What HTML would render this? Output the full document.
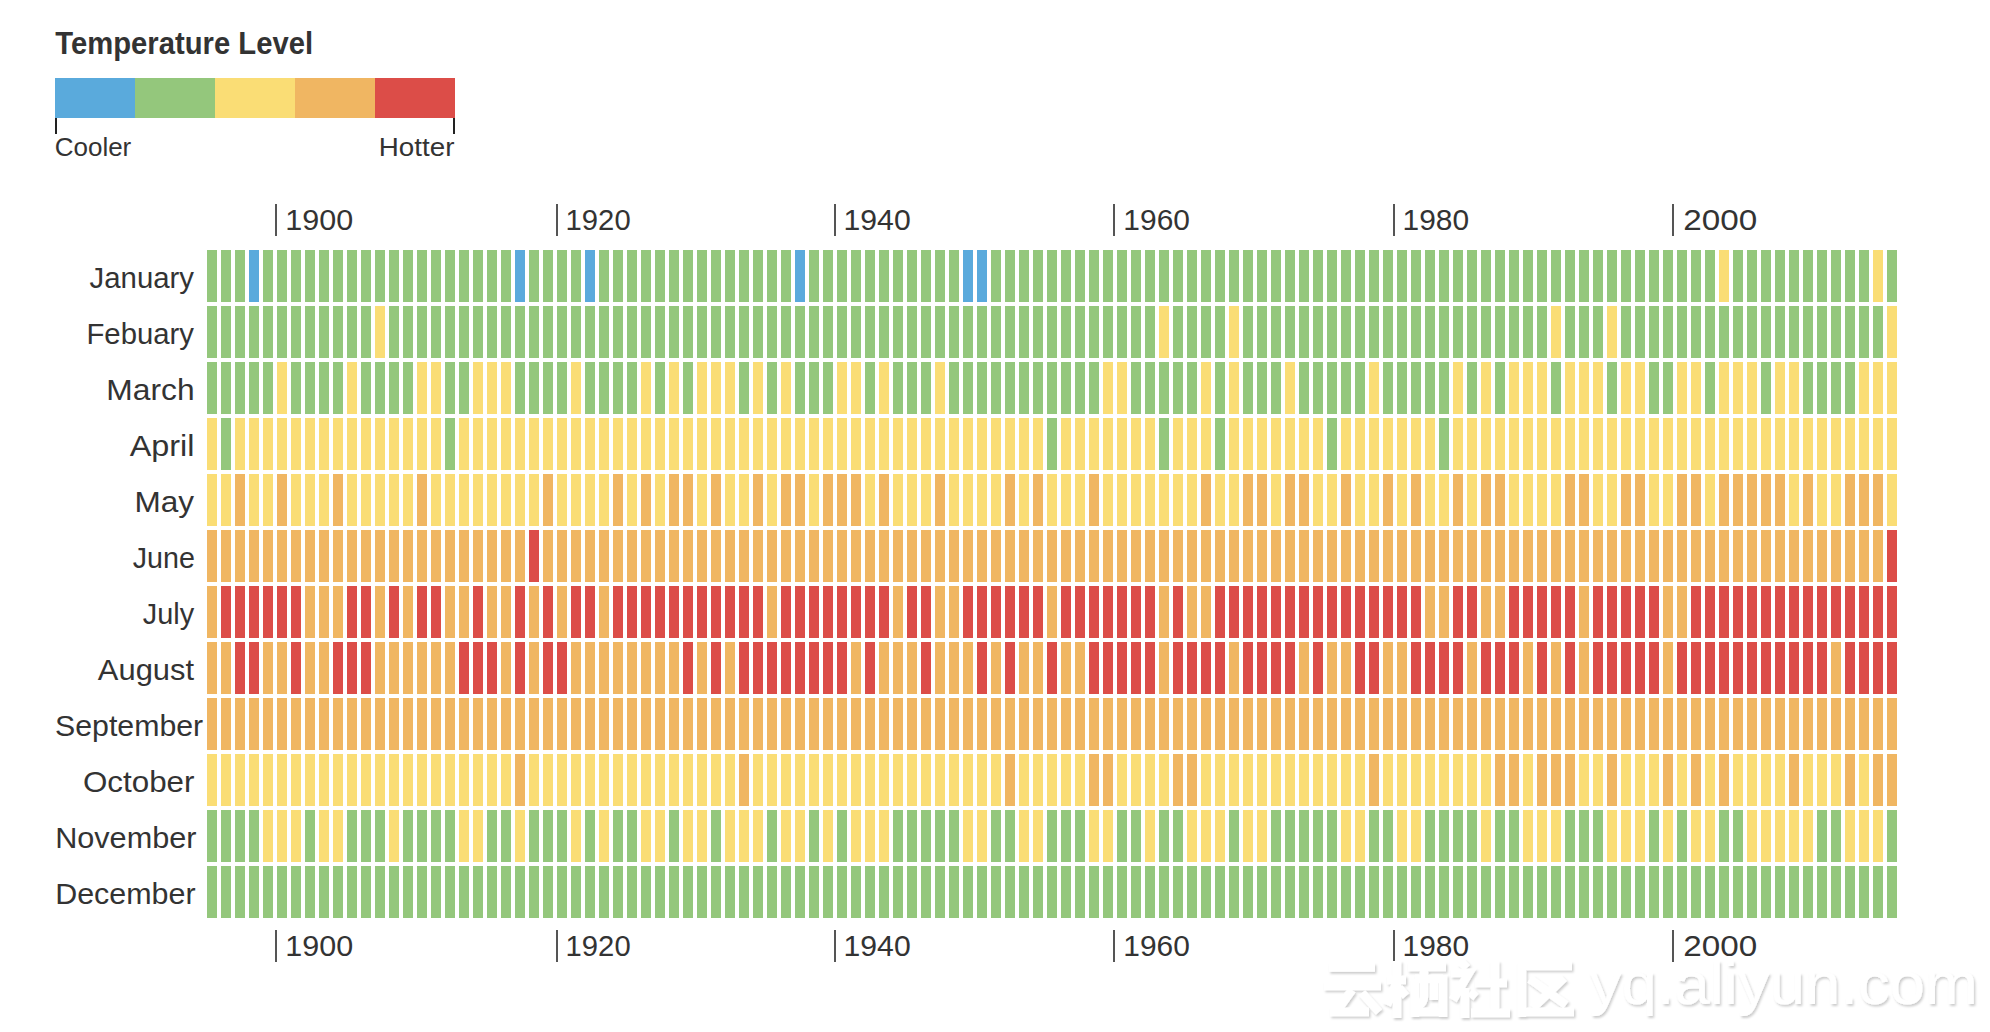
<!DOCTYPE html><html><head><meta charset="utf-8"><style>html,body{margin:0;padding:0;background:#fff;width:1990px;height:1032px;overflow:hidden}svg{display:block}text{font-family:"Liberation Sans",sans-serif;fill:#333333}</style></head><body>
<svg width="1990" height="1032" viewBox="0 0 1990 1032">
<text transform="translate(55.31 54.40) scale(0.9384 1)" font-size="31.16" font-weight="bold">Temperature Level</text>
<rect x="55" y="78" width="80" height="40" fill="#5aaadc"/>
<rect x="135" y="78" width="80" height="40" fill="#94c77c"/>
<rect x="215" y="78" width="80" height="40" fill="#fadd75"/>
<rect x="295" y="78" width="80" height="40" fill="#f0b662"/>
<rect x="375" y="78" width="80" height="40" fill="#dc4d48"/>
<rect x="55" y="118" width="2" height="16" fill="#222"/>
<rect x="453" y="118" width="2" height="16" fill="#222"/>
<text transform="translate(54.70 156.00) scale(0.9914 1)" font-size="26.23">Cooler</text>
<text transform="translate(378.78 156.00) scale(1.0646 1)" font-size="26.09">Hotter</text>
<rect x="275" y="204" width="2" height="32" fill="#555"/>
<text transform="translate(285.31 230.00) scale(1.0174 1)" font-size="30.00">1900</text>
<rect x="275" y="930" width="2" height="32" fill="#555"/>
<text transform="translate(285.31 956.00) scale(1.0272 1)" font-size="29.71">1900</text>
<rect x="556" y="204" width="2" height="32" fill="#555"/>
<text transform="translate(565.61 230.00) scale(0.9747 1)" font-size="30.00">1920</text>
<rect x="556" y="930" width="2" height="32" fill="#555"/>
<text transform="translate(565.61 956.00) scale(0.9841 1)" font-size="29.71">1920</text>
<rect x="834" y="204" width="2" height="32" fill="#555"/>
<text transform="translate(843.54 230.00) scale(1.0063 1)" font-size="30.00">1940</text>
<rect x="834" y="930" width="2" height="32" fill="#555"/>
<text transform="translate(843.54 956.00) scale(1.0160 1)" font-size="29.71">1940</text>
<rect x="1113" y="204" width="2" height="32" fill="#555"/>
<text transform="translate(1123.36 230.00) scale(0.9976 1)" font-size="30.00">1960</text>
<rect x="1113" y="930" width="2" height="32" fill="#555"/>
<text transform="translate(1123.36 956.00) scale(1.0072 1)" font-size="29.71">1960</text>
<rect x="1393" y="204" width="2" height="32" fill="#555"/>
<text transform="translate(1402.56 230.00) scale(0.9968 1)" font-size="30.00">1980</text>
<rect x="1393" y="930" width="2" height="32" fill="#555"/>
<text transform="translate(1402.56 956.00) scale(1.0064 1)" font-size="29.71">1980</text>
<rect x="1672" y="204" width="2" height="32" fill="#555"/>
<text transform="translate(1683.24 230.00) scale(1.1077 1)" font-size="30.00">2000</text>
<rect x="1672" y="930" width="2" height="32" fill="#555"/>
<text transform="translate(1683.24 956.00) scale(1.1184 1)" font-size="29.71">2000</text>
<text transform="translate(89.56 287.90) scale(0.9699 1)" font-size="30.29">January</text>
<text transform="translate(86.45 343.90) scale(0.9679 1)" font-size="30.29">Febuary</text>
<text transform="translate(106.36 399.90) scale(1.0487 1)" font-size="30.29">March</text>
<text transform="translate(129.64 455.90) scale(1.0691 1)" font-size="30.29">April</text>
<text transform="translate(134.38 511.90) scale(1.0407 1)" font-size="30.29">May</text>
<text transform="translate(132.67 567.90) scale(0.9466 1)" font-size="30.29">June</text>
<text transform="translate(142.67 623.90) scale(0.9548 1)" font-size="30.29">July</text>
<text transform="translate(97.85 679.90) scale(1.0203 1)" font-size="30.29">August</text>
<text transform="translate(55.04 735.90) scale(1.0000 1)" font-size="30.29">September</text>
<text transform="translate(82.99 791.90) scale(1.0353 1)" font-size="30.29">October</text>
<text transform="translate(55.15 847.90) scale(1.0113 1)" font-size="30.29">November</text>
<text transform="translate(55.16 903.90) scale(1.0054 1)" font-size="30.29">December</text>
<rect x="207" y="250" width="10" height="52" fill="#94c77c"/>
<rect x="221" y="250" width="10" height="52" fill="#94c77c"/>
<rect x="235" y="250" width="10" height="52" fill="#94c77c"/>
<rect x="249" y="250" width="10" height="52" fill="#5aaadc"/>
<rect x="263" y="250" width="10" height="52" fill="#94c77c"/>
<rect x="277" y="250" width="10" height="52" fill="#94c77c"/>
<rect x="291" y="250" width="10" height="52" fill="#94c77c"/>
<rect x="305" y="250" width="10" height="52" fill="#94c77c"/>
<rect x="319" y="250" width="10" height="52" fill="#94c77c"/>
<rect x="333" y="250" width="10" height="52" fill="#94c77c"/>
<rect x="347" y="250" width="10" height="52" fill="#94c77c"/>
<rect x="361" y="250" width="10" height="52" fill="#94c77c"/>
<rect x="375" y="250" width="10" height="52" fill="#94c77c"/>
<rect x="389" y="250" width="10" height="52" fill="#94c77c"/>
<rect x="403" y="250" width="10" height="52" fill="#94c77c"/>
<rect x="417" y="250" width="10" height="52" fill="#94c77c"/>
<rect x="431" y="250" width="10" height="52" fill="#94c77c"/>
<rect x="445" y="250" width="10" height="52" fill="#94c77c"/>
<rect x="459" y="250" width="10" height="52" fill="#94c77c"/>
<rect x="473" y="250" width="10" height="52" fill="#94c77c"/>
<rect x="487" y="250" width="10" height="52" fill="#94c77c"/>
<rect x="501" y="250" width="10" height="52" fill="#94c77c"/>
<rect x="515" y="250" width="10" height="52" fill="#5aaadc"/>
<rect x="529" y="250" width="10" height="52" fill="#94c77c"/>
<rect x="543" y="250" width="10" height="52" fill="#94c77c"/>
<rect x="557" y="250" width="10" height="52" fill="#94c77c"/>
<rect x="571" y="250" width="10" height="52" fill="#94c77c"/>
<rect x="585" y="250" width="10" height="52" fill="#5aaadc"/>
<rect x="599" y="250" width="10" height="52" fill="#94c77c"/>
<rect x="613" y="250" width="10" height="52" fill="#94c77c"/>
<rect x="627" y="250" width="10" height="52" fill="#94c77c"/>
<rect x="641" y="250" width="10" height="52" fill="#94c77c"/>
<rect x="655" y="250" width="10" height="52" fill="#94c77c"/>
<rect x="669" y="250" width="10" height="52" fill="#94c77c"/>
<rect x="683" y="250" width="10" height="52" fill="#94c77c"/>
<rect x="697" y="250" width="10" height="52" fill="#94c77c"/>
<rect x="711" y="250" width="10" height="52" fill="#94c77c"/>
<rect x="725" y="250" width="10" height="52" fill="#94c77c"/>
<rect x="739" y="250" width="10" height="52" fill="#94c77c"/>
<rect x="753" y="250" width="10" height="52" fill="#94c77c"/>
<rect x="767" y="250" width="10" height="52" fill="#94c77c"/>
<rect x="781" y="250" width="10" height="52" fill="#94c77c"/>
<rect x="795" y="250" width="10" height="52" fill="#5aaadc"/>
<rect x="809" y="250" width="10" height="52" fill="#94c77c"/>
<rect x="823" y="250" width="10" height="52" fill="#94c77c"/>
<rect x="837" y="250" width="10" height="52" fill="#94c77c"/>
<rect x="851" y="250" width="10" height="52" fill="#94c77c"/>
<rect x="865" y="250" width="10" height="52" fill="#94c77c"/>
<rect x="879" y="250" width="10" height="52" fill="#94c77c"/>
<rect x="893" y="250" width="10" height="52" fill="#94c77c"/>
<rect x="907" y="250" width="10" height="52" fill="#94c77c"/>
<rect x="921" y="250" width="10" height="52" fill="#94c77c"/>
<rect x="935" y="250" width="10" height="52" fill="#94c77c"/>
<rect x="949" y="250" width="10" height="52" fill="#94c77c"/>
<rect x="963" y="250" width="10" height="52" fill="#5aaadc"/>
<rect x="977" y="250" width="10" height="52" fill="#5aaadc"/>
<rect x="991" y="250" width="10" height="52" fill="#94c77c"/>
<rect x="1005" y="250" width="10" height="52" fill="#94c77c"/>
<rect x="1019" y="250" width="10" height="52" fill="#94c77c"/>
<rect x="1033" y="250" width="10" height="52" fill="#94c77c"/>
<rect x="1047" y="250" width="10" height="52" fill="#94c77c"/>
<rect x="1061" y="250" width="10" height="52" fill="#94c77c"/>
<rect x="1075" y="250" width="10" height="52" fill="#94c77c"/>
<rect x="1089" y="250" width="10" height="52" fill="#94c77c"/>
<rect x="1103" y="250" width="10" height="52" fill="#94c77c"/>
<rect x="1117" y="250" width="10" height="52" fill="#94c77c"/>
<rect x="1131" y="250" width="10" height="52" fill="#94c77c"/>
<rect x="1145" y="250" width="10" height="52" fill="#94c77c"/>
<rect x="1159" y="250" width="10" height="52" fill="#94c77c"/>
<rect x="1173" y="250" width="10" height="52" fill="#94c77c"/>
<rect x="1187" y="250" width="10" height="52" fill="#94c77c"/>
<rect x="1201" y="250" width="10" height="52" fill="#94c77c"/>
<rect x="1215" y="250" width="10" height="52" fill="#94c77c"/>
<rect x="1229" y="250" width="10" height="52" fill="#94c77c"/>
<rect x="1243" y="250" width="10" height="52" fill="#94c77c"/>
<rect x="1257" y="250" width="10" height="52" fill="#94c77c"/>
<rect x="1271" y="250" width="10" height="52" fill="#94c77c"/>
<rect x="1285" y="250" width="10" height="52" fill="#94c77c"/>
<rect x="1299" y="250" width="10" height="52" fill="#94c77c"/>
<rect x="1313" y="250" width="10" height="52" fill="#94c77c"/>
<rect x="1327" y="250" width="10" height="52" fill="#94c77c"/>
<rect x="1341" y="250" width="10" height="52" fill="#94c77c"/>
<rect x="1355" y="250" width="10" height="52" fill="#94c77c"/>
<rect x="1369" y="250" width="10" height="52" fill="#94c77c"/>
<rect x="1383" y="250" width="10" height="52" fill="#94c77c"/>
<rect x="1397" y="250" width="10" height="52" fill="#94c77c"/>
<rect x="1411" y="250" width="10" height="52" fill="#94c77c"/>
<rect x="1425" y="250" width="10" height="52" fill="#94c77c"/>
<rect x="1439" y="250" width="10" height="52" fill="#94c77c"/>
<rect x="1453" y="250" width="10" height="52" fill="#94c77c"/>
<rect x="1467" y="250" width="10" height="52" fill="#94c77c"/>
<rect x="1481" y="250" width="10" height="52" fill="#94c77c"/>
<rect x="1495" y="250" width="10" height="52" fill="#94c77c"/>
<rect x="1509" y="250" width="10" height="52" fill="#94c77c"/>
<rect x="1523" y="250" width="10" height="52" fill="#94c77c"/>
<rect x="1537" y="250" width="10" height="52" fill="#94c77c"/>
<rect x="1551" y="250" width="10" height="52" fill="#94c77c"/>
<rect x="1565" y="250" width="10" height="52" fill="#94c77c"/>
<rect x="1579" y="250" width="10" height="52" fill="#94c77c"/>
<rect x="1593" y="250" width="10" height="52" fill="#94c77c"/>
<rect x="1607" y="250" width="10" height="52" fill="#94c77c"/>
<rect x="1621" y="250" width="10" height="52" fill="#94c77c"/>
<rect x="1635" y="250" width="10" height="52" fill="#94c77c"/>
<rect x="1649" y="250" width="10" height="52" fill="#94c77c"/>
<rect x="1663" y="250" width="10" height="52" fill="#94c77c"/>
<rect x="1677" y="250" width="10" height="52" fill="#94c77c"/>
<rect x="1691" y="250" width="10" height="52" fill="#94c77c"/>
<rect x="1705" y="250" width="10" height="52" fill="#94c77c"/>
<rect x="1719" y="250" width="10" height="52" fill="#fadd75"/>
<rect x="1733" y="250" width="10" height="52" fill="#94c77c"/>
<rect x="1747" y="250" width="10" height="52" fill="#94c77c"/>
<rect x="1761" y="250" width="10" height="52" fill="#94c77c"/>
<rect x="1775" y="250" width="10" height="52" fill="#94c77c"/>
<rect x="1789" y="250" width="10" height="52" fill="#94c77c"/>
<rect x="1803" y="250" width="10" height="52" fill="#94c77c"/>
<rect x="1817" y="250" width="10" height="52" fill="#94c77c"/>
<rect x="1831" y="250" width="10" height="52" fill="#94c77c"/>
<rect x="1845" y="250" width="10" height="52" fill="#94c77c"/>
<rect x="1859" y="250" width="10" height="52" fill="#94c77c"/>
<rect x="1873" y="250" width="10" height="52" fill="#fadd75"/>
<rect x="1887" y="250" width="10" height="52" fill="#94c77c"/>
<rect x="207" y="306" width="10" height="52" fill="#94c77c"/>
<rect x="221" y="306" width="10" height="52" fill="#94c77c"/>
<rect x="235" y="306" width="10" height="52" fill="#94c77c"/>
<rect x="249" y="306" width="10" height="52" fill="#94c77c"/>
<rect x="263" y="306" width="10" height="52" fill="#94c77c"/>
<rect x="277" y="306" width="10" height="52" fill="#94c77c"/>
<rect x="291" y="306" width="10" height="52" fill="#94c77c"/>
<rect x="305" y="306" width="10" height="52" fill="#94c77c"/>
<rect x="319" y="306" width="10" height="52" fill="#94c77c"/>
<rect x="333" y="306" width="10" height="52" fill="#94c77c"/>
<rect x="347" y="306" width="10" height="52" fill="#94c77c"/>
<rect x="361" y="306" width="10" height="52" fill="#94c77c"/>
<rect x="375" y="306" width="10" height="52" fill="#fadd75"/>
<rect x="389" y="306" width="10" height="52" fill="#94c77c"/>
<rect x="403" y="306" width="10" height="52" fill="#94c77c"/>
<rect x="417" y="306" width="10" height="52" fill="#94c77c"/>
<rect x="431" y="306" width="10" height="52" fill="#94c77c"/>
<rect x="445" y="306" width="10" height="52" fill="#94c77c"/>
<rect x="459" y="306" width="10" height="52" fill="#94c77c"/>
<rect x="473" y="306" width="10" height="52" fill="#94c77c"/>
<rect x="487" y="306" width="10" height="52" fill="#94c77c"/>
<rect x="501" y="306" width="10" height="52" fill="#94c77c"/>
<rect x="515" y="306" width="10" height="52" fill="#94c77c"/>
<rect x="529" y="306" width="10" height="52" fill="#94c77c"/>
<rect x="543" y="306" width="10" height="52" fill="#94c77c"/>
<rect x="557" y="306" width="10" height="52" fill="#94c77c"/>
<rect x="571" y="306" width="10" height="52" fill="#94c77c"/>
<rect x="585" y="306" width="10" height="52" fill="#94c77c"/>
<rect x="599" y="306" width="10" height="52" fill="#94c77c"/>
<rect x="613" y="306" width="10" height="52" fill="#94c77c"/>
<rect x="627" y="306" width="10" height="52" fill="#94c77c"/>
<rect x="641" y="306" width="10" height="52" fill="#94c77c"/>
<rect x="655" y="306" width="10" height="52" fill="#94c77c"/>
<rect x="669" y="306" width="10" height="52" fill="#94c77c"/>
<rect x="683" y="306" width="10" height="52" fill="#94c77c"/>
<rect x="697" y="306" width="10" height="52" fill="#94c77c"/>
<rect x="711" y="306" width="10" height="52" fill="#94c77c"/>
<rect x="725" y="306" width="10" height="52" fill="#94c77c"/>
<rect x="739" y="306" width="10" height="52" fill="#94c77c"/>
<rect x="753" y="306" width="10" height="52" fill="#94c77c"/>
<rect x="767" y="306" width="10" height="52" fill="#94c77c"/>
<rect x="781" y="306" width="10" height="52" fill="#94c77c"/>
<rect x="795" y="306" width="10" height="52" fill="#94c77c"/>
<rect x="809" y="306" width="10" height="52" fill="#94c77c"/>
<rect x="823" y="306" width="10" height="52" fill="#94c77c"/>
<rect x="837" y="306" width="10" height="52" fill="#94c77c"/>
<rect x="851" y="306" width="10" height="52" fill="#94c77c"/>
<rect x="865" y="306" width="10" height="52" fill="#94c77c"/>
<rect x="879" y="306" width="10" height="52" fill="#94c77c"/>
<rect x="893" y="306" width="10" height="52" fill="#94c77c"/>
<rect x="907" y="306" width="10" height="52" fill="#94c77c"/>
<rect x="921" y="306" width="10" height="52" fill="#94c77c"/>
<rect x="935" y="306" width="10" height="52" fill="#94c77c"/>
<rect x="949" y="306" width="10" height="52" fill="#94c77c"/>
<rect x="963" y="306" width="10" height="52" fill="#94c77c"/>
<rect x="977" y="306" width="10" height="52" fill="#94c77c"/>
<rect x="991" y="306" width="10" height="52" fill="#94c77c"/>
<rect x="1005" y="306" width="10" height="52" fill="#94c77c"/>
<rect x="1019" y="306" width="10" height="52" fill="#94c77c"/>
<rect x="1033" y="306" width="10" height="52" fill="#94c77c"/>
<rect x="1047" y="306" width="10" height="52" fill="#94c77c"/>
<rect x="1061" y="306" width="10" height="52" fill="#94c77c"/>
<rect x="1075" y="306" width="10" height="52" fill="#94c77c"/>
<rect x="1089" y="306" width="10" height="52" fill="#94c77c"/>
<rect x="1103" y="306" width="10" height="52" fill="#94c77c"/>
<rect x="1117" y="306" width="10" height="52" fill="#94c77c"/>
<rect x="1131" y="306" width="10" height="52" fill="#94c77c"/>
<rect x="1145" y="306" width="10" height="52" fill="#94c77c"/>
<rect x="1159" y="306" width="10" height="52" fill="#fadd75"/>
<rect x="1173" y="306" width="10" height="52" fill="#94c77c"/>
<rect x="1187" y="306" width="10" height="52" fill="#94c77c"/>
<rect x="1201" y="306" width="10" height="52" fill="#94c77c"/>
<rect x="1215" y="306" width="10" height="52" fill="#94c77c"/>
<rect x="1229" y="306" width="10" height="52" fill="#fadd75"/>
<rect x="1243" y="306" width="10" height="52" fill="#94c77c"/>
<rect x="1257" y="306" width="10" height="52" fill="#94c77c"/>
<rect x="1271" y="306" width="10" height="52" fill="#94c77c"/>
<rect x="1285" y="306" width="10" height="52" fill="#94c77c"/>
<rect x="1299" y="306" width="10" height="52" fill="#94c77c"/>
<rect x="1313" y="306" width="10" height="52" fill="#94c77c"/>
<rect x="1327" y="306" width="10" height="52" fill="#94c77c"/>
<rect x="1341" y="306" width="10" height="52" fill="#94c77c"/>
<rect x="1355" y="306" width="10" height="52" fill="#94c77c"/>
<rect x="1369" y="306" width="10" height="52" fill="#94c77c"/>
<rect x="1383" y="306" width="10" height="52" fill="#94c77c"/>
<rect x="1397" y="306" width="10" height="52" fill="#94c77c"/>
<rect x="1411" y="306" width="10" height="52" fill="#94c77c"/>
<rect x="1425" y="306" width="10" height="52" fill="#94c77c"/>
<rect x="1439" y="306" width="10" height="52" fill="#94c77c"/>
<rect x="1453" y="306" width="10" height="52" fill="#94c77c"/>
<rect x="1467" y="306" width="10" height="52" fill="#94c77c"/>
<rect x="1481" y="306" width="10" height="52" fill="#94c77c"/>
<rect x="1495" y="306" width="10" height="52" fill="#94c77c"/>
<rect x="1509" y="306" width="10" height="52" fill="#94c77c"/>
<rect x="1523" y="306" width="10" height="52" fill="#94c77c"/>
<rect x="1537" y="306" width="10" height="52" fill="#94c77c"/>
<rect x="1551" y="306" width="10" height="52" fill="#fadd75"/>
<rect x="1565" y="306" width="10" height="52" fill="#94c77c"/>
<rect x="1579" y="306" width="10" height="52" fill="#94c77c"/>
<rect x="1593" y="306" width="10" height="52" fill="#94c77c"/>
<rect x="1607" y="306" width="10" height="52" fill="#fadd75"/>
<rect x="1621" y="306" width="10" height="52" fill="#94c77c"/>
<rect x="1635" y="306" width="10" height="52" fill="#94c77c"/>
<rect x="1649" y="306" width="10" height="52" fill="#94c77c"/>
<rect x="1663" y="306" width="10" height="52" fill="#94c77c"/>
<rect x="1677" y="306" width="10" height="52" fill="#94c77c"/>
<rect x="1691" y="306" width="10" height="52" fill="#94c77c"/>
<rect x="1705" y="306" width="10" height="52" fill="#94c77c"/>
<rect x="1719" y="306" width="10" height="52" fill="#94c77c"/>
<rect x="1733" y="306" width="10" height="52" fill="#94c77c"/>
<rect x="1747" y="306" width="10" height="52" fill="#94c77c"/>
<rect x="1761" y="306" width="10" height="52" fill="#94c77c"/>
<rect x="1775" y="306" width="10" height="52" fill="#94c77c"/>
<rect x="1789" y="306" width="10" height="52" fill="#94c77c"/>
<rect x="1803" y="306" width="10" height="52" fill="#94c77c"/>
<rect x="1817" y="306" width="10" height="52" fill="#94c77c"/>
<rect x="1831" y="306" width="10" height="52" fill="#94c77c"/>
<rect x="1845" y="306" width="10" height="52" fill="#94c77c"/>
<rect x="1859" y="306" width="10" height="52" fill="#94c77c"/>
<rect x="1873" y="306" width="10" height="52" fill="#94c77c"/>
<rect x="1887" y="306" width="10" height="52" fill="#fadd75"/>
<rect x="207" y="362" width="10" height="52" fill="#94c77c"/>
<rect x="221" y="362" width="10" height="52" fill="#94c77c"/>
<rect x="235" y="362" width="10" height="52" fill="#94c77c"/>
<rect x="249" y="362" width="10" height="52" fill="#94c77c"/>
<rect x="263" y="362" width="10" height="52" fill="#94c77c"/>
<rect x="277" y="362" width="10" height="52" fill="#fadd75"/>
<rect x="291" y="362" width="10" height="52" fill="#94c77c"/>
<rect x="305" y="362" width="10" height="52" fill="#94c77c"/>
<rect x="319" y="362" width="10" height="52" fill="#94c77c"/>
<rect x="333" y="362" width="10" height="52" fill="#94c77c"/>
<rect x="347" y="362" width="10" height="52" fill="#fadd75"/>
<rect x="361" y="362" width="10" height="52" fill="#94c77c"/>
<rect x="375" y="362" width="10" height="52" fill="#94c77c"/>
<rect x="389" y="362" width="10" height="52" fill="#94c77c"/>
<rect x="403" y="362" width="10" height="52" fill="#94c77c"/>
<rect x="417" y="362" width="10" height="52" fill="#fadd75"/>
<rect x="431" y="362" width="10" height="52" fill="#fadd75"/>
<rect x="445" y="362" width="10" height="52" fill="#94c77c"/>
<rect x="459" y="362" width="10" height="52" fill="#94c77c"/>
<rect x="473" y="362" width="10" height="52" fill="#fadd75"/>
<rect x="487" y="362" width="10" height="52" fill="#fadd75"/>
<rect x="501" y="362" width="10" height="52" fill="#fadd75"/>
<rect x="515" y="362" width="10" height="52" fill="#94c77c"/>
<rect x="529" y="362" width="10" height="52" fill="#94c77c"/>
<rect x="543" y="362" width="10" height="52" fill="#94c77c"/>
<rect x="557" y="362" width="10" height="52" fill="#94c77c"/>
<rect x="571" y="362" width="10" height="52" fill="#fadd75"/>
<rect x="585" y="362" width="10" height="52" fill="#94c77c"/>
<rect x="599" y="362" width="10" height="52" fill="#94c77c"/>
<rect x="613" y="362" width="10" height="52" fill="#94c77c"/>
<rect x="627" y="362" width="10" height="52" fill="#94c77c"/>
<rect x="641" y="362" width="10" height="52" fill="#fadd75"/>
<rect x="655" y="362" width="10" height="52" fill="#94c77c"/>
<rect x="669" y="362" width="10" height="52" fill="#fadd75"/>
<rect x="683" y="362" width="10" height="52" fill="#94c77c"/>
<rect x="697" y="362" width="10" height="52" fill="#fadd75"/>
<rect x="711" y="362" width="10" height="52" fill="#fadd75"/>
<rect x="725" y="362" width="10" height="52" fill="#fadd75"/>
<rect x="739" y="362" width="10" height="52" fill="#94c77c"/>
<rect x="753" y="362" width="10" height="52" fill="#fadd75"/>
<rect x="767" y="362" width="10" height="52" fill="#94c77c"/>
<rect x="781" y="362" width="10" height="52" fill="#fadd75"/>
<rect x="795" y="362" width="10" height="52" fill="#94c77c"/>
<rect x="809" y="362" width="10" height="52" fill="#94c77c"/>
<rect x="823" y="362" width="10" height="52" fill="#94c77c"/>
<rect x="837" y="362" width="10" height="52" fill="#fadd75"/>
<rect x="851" y="362" width="10" height="52" fill="#fadd75"/>
<rect x="865" y="362" width="10" height="52" fill="#94c77c"/>
<rect x="879" y="362" width="10" height="52" fill="#fadd75"/>
<rect x="893" y="362" width="10" height="52" fill="#94c77c"/>
<rect x="907" y="362" width="10" height="52" fill="#94c77c"/>
<rect x="921" y="362" width="10" height="52" fill="#94c77c"/>
<rect x="935" y="362" width="10" height="52" fill="#fadd75"/>
<rect x="949" y="362" width="10" height="52" fill="#94c77c"/>
<rect x="963" y="362" width="10" height="52" fill="#94c77c"/>
<rect x="977" y="362" width="10" height="52" fill="#94c77c"/>
<rect x="991" y="362" width="10" height="52" fill="#94c77c"/>
<rect x="1005" y="362" width="10" height="52" fill="#94c77c"/>
<rect x="1019" y="362" width="10" height="52" fill="#94c77c"/>
<rect x="1033" y="362" width="10" height="52" fill="#94c77c"/>
<rect x="1047" y="362" width="10" height="52" fill="#94c77c"/>
<rect x="1061" y="362" width="10" height="52" fill="#94c77c"/>
<rect x="1075" y="362" width="10" height="52" fill="#94c77c"/>
<rect x="1089" y="362" width="10" height="52" fill="#94c77c"/>
<rect x="1103" y="362" width="10" height="52" fill="#fadd75"/>
<rect x="1117" y="362" width="10" height="52" fill="#fadd75"/>
<rect x="1131" y="362" width="10" height="52" fill="#94c77c"/>
<rect x="1145" y="362" width="10" height="52" fill="#94c77c"/>
<rect x="1159" y="362" width="10" height="52" fill="#94c77c"/>
<rect x="1173" y="362" width="10" height="52" fill="#94c77c"/>
<rect x="1187" y="362" width="10" height="52" fill="#94c77c"/>
<rect x="1201" y="362" width="10" height="52" fill="#fadd75"/>
<rect x="1215" y="362" width="10" height="52" fill="#94c77c"/>
<rect x="1229" y="362" width="10" height="52" fill="#fadd75"/>
<rect x="1243" y="362" width="10" height="52" fill="#94c77c"/>
<rect x="1257" y="362" width="10" height="52" fill="#94c77c"/>
<rect x="1271" y="362" width="10" height="52" fill="#94c77c"/>
<rect x="1285" y="362" width="10" height="52" fill="#fadd75"/>
<rect x="1299" y="362" width="10" height="52" fill="#94c77c"/>
<rect x="1313" y="362" width="10" height="52" fill="#94c77c"/>
<rect x="1327" y="362" width="10" height="52" fill="#94c77c"/>
<rect x="1341" y="362" width="10" height="52" fill="#94c77c"/>
<rect x="1355" y="362" width="10" height="52" fill="#94c77c"/>
<rect x="1369" y="362" width="10" height="52" fill="#fadd75"/>
<rect x="1383" y="362" width="10" height="52" fill="#94c77c"/>
<rect x="1397" y="362" width="10" height="52" fill="#94c77c"/>
<rect x="1411" y="362" width="10" height="52" fill="#94c77c"/>
<rect x="1425" y="362" width="10" height="52" fill="#94c77c"/>
<rect x="1439" y="362" width="10" height="52" fill="#94c77c"/>
<rect x="1453" y="362" width="10" height="52" fill="#fadd75"/>
<rect x="1467" y="362" width="10" height="52" fill="#94c77c"/>
<rect x="1481" y="362" width="10" height="52" fill="#fadd75"/>
<rect x="1495" y="362" width="10" height="52" fill="#94c77c"/>
<rect x="1509" y="362" width="10" height="52" fill="#fadd75"/>
<rect x="1523" y="362" width="10" height="52" fill="#fadd75"/>
<rect x="1537" y="362" width="10" height="52" fill="#fadd75"/>
<rect x="1551" y="362" width="10" height="52" fill="#94c77c"/>
<rect x="1565" y="362" width="10" height="52" fill="#fadd75"/>
<rect x="1579" y="362" width="10" height="52" fill="#fadd75"/>
<rect x="1593" y="362" width="10" height="52" fill="#fadd75"/>
<rect x="1607" y="362" width="10" height="52" fill="#94c77c"/>
<rect x="1621" y="362" width="10" height="52" fill="#fadd75"/>
<rect x="1635" y="362" width="10" height="52" fill="#fadd75"/>
<rect x="1649" y="362" width="10" height="52" fill="#94c77c"/>
<rect x="1663" y="362" width="10" height="52" fill="#94c77c"/>
<rect x="1677" y="362" width="10" height="52" fill="#fadd75"/>
<rect x="1691" y="362" width="10" height="52" fill="#fadd75"/>
<rect x="1705" y="362" width="10" height="52" fill="#94c77c"/>
<rect x="1719" y="362" width="10" height="52" fill="#fadd75"/>
<rect x="1733" y="362" width="10" height="52" fill="#fadd75"/>
<rect x="1747" y="362" width="10" height="52" fill="#fadd75"/>
<rect x="1761" y="362" width="10" height="52" fill="#94c77c"/>
<rect x="1775" y="362" width="10" height="52" fill="#fadd75"/>
<rect x="1789" y="362" width="10" height="52" fill="#fadd75"/>
<rect x="1803" y="362" width="10" height="52" fill="#94c77c"/>
<rect x="1817" y="362" width="10" height="52" fill="#94c77c"/>
<rect x="1831" y="362" width="10" height="52" fill="#94c77c"/>
<rect x="1845" y="362" width="10" height="52" fill="#94c77c"/>
<rect x="1859" y="362" width="10" height="52" fill="#fadd75"/>
<rect x="1873" y="362" width="10" height="52" fill="#fadd75"/>
<rect x="1887" y="362" width="10" height="52" fill="#fadd75"/>
<rect x="207" y="418" width="10" height="52" fill="#fadd75"/>
<rect x="221" y="418" width="10" height="52" fill="#94c77c"/>
<rect x="235" y="418" width="10" height="52" fill="#fadd75"/>
<rect x="249" y="418" width="10" height="52" fill="#fadd75"/>
<rect x="263" y="418" width="10" height="52" fill="#fadd75"/>
<rect x="277" y="418" width="10" height="52" fill="#fadd75"/>
<rect x="291" y="418" width="10" height="52" fill="#fadd75"/>
<rect x="305" y="418" width="10" height="52" fill="#fadd75"/>
<rect x="319" y="418" width="10" height="52" fill="#fadd75"/>
<rect x="333" y="418" width="10" height="52" fill="#fadd75"/>
<rect x="347" y="418" width="10" height="52" fill="#fadd75"/>
<rect x="361" y="418" width="10" height="52" fill="#fadd75"/>
<rect x="375" y="418" width="10" height="52" fill="#fadd75"/>
<rect x="389" y="418" width="10" height="52" fill="#fadd75"/>
<rect x="403" y="418" width="10" height="52" fill="#fadd75"/>
<rect x="417" y="418" width="10" height="52" fill="#fadd75"/>
<rect x="431" y="418" width="10" height="52" fill="#fadd75"/>
<rect x="445" y="418" width="10" height="52" fill="#94c77c"/>
<rect x="459" y="418" width="10" height="52" fill="#fadd75"/>
<rect x="473" y="418" width="10" height="52" fill="#fadd75"/>
<rect x="487" y="418" width="10" height="52" fill="#fadd75"/>
<rect x="501" y="418" width="10" height="52" fill="#fadd75"/>
<rect x="515" y="418" width="10" height="52" fill="#fadd75"/>
<rect x="529" y="418" width="10" height="52" fill="#fadd75"/>
<rect x="543" y="418" width="10" height="52" fill="#fadd75"/>
<rect x="557" y="418" width="10" height="52" fill="#fadd75"/>
<rect x="571" y="418" width="10" height="52" fill="#fadd75"/>
<rect x="585" y="418" width="10" height="52" fill="#fadd75"/>
<rect x="599" y="418" width="10" height="52" fill="#fadd75"/>
<rect x="613" y="418" width="10" height="52" fill="#fadd75"/>
<rect x="627" y="418" width="10" height="52" fill="#fadd75"/>
<rect x="641" y="418" width="10" height="52" fill="#fadd75"/>
<rect x="655" y="418" width="10" height="52" fill="#fadd75"/>
<rect x="669" y="418" width="10" height="52" fill="#fadd75"/>
<rect x="683" y="418" width="10" height="52" fill="#fadd75"/>
<rect x="697" y="418" width="10" height="52" fill="#fadd75"/>
<rect x="711" y="418" width="10" height="52" fill="#fadd75"/>
<rect x="725" y="418" width="10" height="52" fill="#fadd75"/>
<rect x="739" y="418" width="10" height="52" fill="#fadd75"/>
<rect x="753" y="418" width="10" height="52" fill="#fadd75"/>
<rect x="767" y="418" width="10" height="52" fill="#fadd75"/>
<rect x="781" y="418" width="10" height="52" fill="#fadd75"/>
<rect x="795" y="418" width="10" height="52" fill="#fadd75"/>
<rect x="809" y="418" width="10" height="52" fill="#fadd75"/>
<rect x="823" y="418" width="10" height="52" fill="#fadd75"/>
<rect x="837" y="418" width="10" height="52" fill="#fadd75"/>
<rect x="851" y="418" width="10" height="52" fill="#fadd75"/>
<rect x="865" y="418" width="10" height="52" fill="#fadd75"/>
<rect x="879" y="418" width="10" height="52" fill="#fadd75"/>
<rect x="893" y="418" width="10" height="52" fill="#fadd75"/>
<rect x="907" y="418" width="10" height="52" fill="#fadd75"/>
<rect x="921" y="418" width="10" height="52" fill="#fadd75"/>
<rect x="935" y="418" width="10" height="52" fill="#fadd75"/>
<rect x="949" y="418" width="10" height="52" fill="#fadd75"/>
<rect x="963" y="418" width="10" height="52" fill="#fadd75"/>
<rect x="977" y="418" width="10" height="52" fill="#fadd75"/>
<rect x="991" y="418" width="10" height="52" fill="#fadd75"/>
<rect x="1005" y="418" width="10" height="52" fill="#fadd75"/>
<rect x="1019" y="418" width="10" height="52" fill="#fadd75"/>
<rect x="1033" y="418" width="10" height="52" fill="#fadd75"/>
<rect x="1047" y="418" width="10" height="52" fill="#94c77c"/>
<rect x="1061" y="418" width="10" height="52" fill="#fadd75"/>
<rect x="1075" y="418" width="10" height="52" fill="#fadd75"/>
<rect x="1089" y="418" width="10" height="52" fill="#fadd75"/>
<rect x="1103" y="418" width="10" height="52" fill="#fadd75"/>
<rect x="1117" y="418" width="10" height="52" fill="#fadd75"/>
<rect x="1131" y="418" width="10" height="52" fill="#fadd75"/>
<rect x="1145" y="418" width="10" height="52" fill="#fadd75"/>
<rect x="1159" y="418" width="10" height="52" fill="#94c77c"/>
<rect x="1173" y="418" width="10" height="52" fill="#fadd75"/>
<rect x="1187" y="418" width="10" height="52" fill="#fadd75"/>
<rect x="1201" y="418" width="10" height="52" fill="#fadd75"/>
<rect x="1215" y="418" width="10" height="52" fill="#94c77c"/>
<rect x="1229" y="418" width="10" height="52" fill="#fadd75"/>
<rect x="1243" y="418" width="10" height="52" fill="#fadd75"/>
<rect x="1257" y="418" width="10" height="52" fill="#fadd75"/>
<rect x="1271" y="418" width="10" height="52" fill="#fadd75"/>
<rect x="1285" y="418" width="10" height="52" fill="#fadd75"/>
<rect x="1299" y="418" width="10" height="52" fill="#fadd75"/>
<rect x="1313" y="418" width="10" height="52" fill="#fadd75"/>
<rect x="1327" y="418" width="10" height="52" fill="#94c77c"/>
<rect x="1341" y="418" width="10" height="52" fill="#fadd75"/>
<rect x="1355" y="418" width="10" height="52" fill="#fadd75"/>
<rect x="1369" y="418" width="10" height="52" fill="#fadd75"/>
<rect x="1383" y="418" width="10" height="52" fill="#fadd75"/>
<rect x="1397" y="418" width="10" height="52" fill="#fadd75"/>
<rect x="1411" y="418" width="10" height="52" fill="#fadd75"/>
<rect x="1425" y="418" width="10" height="52" fill="#fadd75"/>
<rect x="1439" y="418" width="10" height="52" fill="#94c77c"/>
<rect x="1453" y="418" width="10" height="52" fill="#fadd75"/>
<rect x="1467" y="418" width="10" height="52" fill="#fadd75"/>
<rect x="1481" y="418" width="10" height="52" fill="#fadd75"/>
<rect x="1495" y="418" width="10" height="52" fill="#fadd75"/>
<rect x="1509" y="418" width="10" height="52" fill="#fadd75"/>
<rect x="1523" y="418" width="10" height="52" fill="#fadd75"/>
<rect x="1537" y="418" width="10" height="52" fill="#fadd75"/>
<rect x="1551" y="418" width="10" height="52" fill="#fadd75"/>
<rect x="1565" y="418" width="10" height="52" fill="#fadd75"/>
<rect x="1579" y="418" width="10" height="52" fill="#fadd75"/>
<rect x="1593" y="418" width="10" height="52" fill="#fadd75"/>
<rect x="1607" y="418" width="10" height="52" fill="#fadd75"/>
<rect x="1621" y="418" width="10" height="52" fill="#fadd75"/>
<rect x="1635" y="418" width="10" height="52" fill="#fadd75"/>
<rect x="1649" y="418" width="10" height="52" fill="#fadd75"/>
<rect x="1663" y="418" width="10" height="52" fill="#fadd75"/>
<rect x="1677" y="418" width="10" height="52" fill="#fadd75"/>
<rect x="1691" y="418" width="10" height="52" fill="#fadd75"/>
<rect x="1705" y="418" width="10" height="52" fill="#fadd75"/>
<rect x="1719" y="418" width="10" height="52" fill="#fadd75"/>
<rect x="1733" y="418" width="10" height="52" fill="#fadd75"/>
<rect x="1747" y="418" width="10" height="52" fill="#fadd75"/>
<rect x="1761" y="418" width="10" height="52" fill="#fadd75"/>
<rect x="1775" y="418" width="10" height="52" fill="#fadd75"/>
<rect x="1789" y="418" width="10" height="52" fill="#fadd75"/>
<rect x="1803" y="418" width="10" height="52" fill="#fadd75"/>
<rect x="1817" y="418" width="10" height="52" fill="#fadd75"/>
<rect x="1831" y="418" width="10" height="52" fill="#fadd75"/>
<rect x="1845" y="418" width="10" height="52" fill="#fadd75"/>
<rect x="1859" y="418" width="10" height="52" fill="#fadd75"/>
<rect x="1873" y="418" width="10" height="52" fill="#fadd75"/>
<rect x="1887" y="418" width="10" height="52" fill="#fadd75"/>
<rect x="207" y="474" width="10" height="52" fill="#fadd75"/>
<rect x="221" y="474" width="10" height="52" fill="#fadd75"/>
<rect x="235" y="474" width="10" height="52" fill="#f0b662"/>
<rect x="249" y="474" width="10" height="52" fill="#fadd75"/>
<rect x="263" y="474" width="10" height="52" fill="#fadd75"/>
<rect x="277" y="474" width="10" height="52" fill="#f0b662"/>
<rect x="291" y="474" width="10" height="52" fill="#fadd75"/>
<rect x="305" y="474" width="10" height="52" fill="#fadd75"/>
<rect x="319" y="474" width="10" height="52" fill="#fadd75"/>
<rect x="333" y="474" width="10" height="52" fill="#f0b662"/>
<rect x="347" y="474" width="10" height="52" fill="#fadd75"/>
<rect x="361" y="474" width="10" height="52" fill="#fadd75"/>
<rect x="375" y="474" width="10" height="52" fill="#fadd75"/>
<rect x="389" y="474" width="10" height="52" fill="#fadd75"/>
<rect x="403" y="474" width="10" height="52" fill="#fadd75"/>
<rect x="417" y="474" width="10" height="52" fill="#f0b662"/>
<rect x="431" y="474" width="10" height="52" fill="#fadd75"/>
<rect x="445" y="474" width="10" height="52" fill="#fadd75"/>
<rect x="459" y="474" width="10" height="52" fill="#fadd75"/>
<rect x="473" y="474" width="10" height="52" fill="#fadd75"/>
<rect x="487" y="474" width="10" height="52" fill="#fadd75"/>
<rect x="501" y="474" width="10" height="52" fill="#fadd75"/>
<rect x="515" y="474" width="10" height="52" fill="#fadd75"/>
<rect x="529" y="474" width="10" height="52" fill="#fadd75"/>
<rect x="543" y="474" width="10" height="52" fill="#f0b662"/>
<rect x="557" y="474" width="10" height="52" fill="#fadd75"/>
<rect x="571" y="474" width="10" height="52" fill="#fadd75"/>
<rect x="585" y="474" width="10" height="52" fill="#fadd75"/>
<rect x="599" y="474" width="10" height="52" fill="#fadd75"/>
<rect x="613" y="474" width="10" height="52" fill="#f0b662"/>
<rect x="627" y="474" width="10" height="52" fill="#fadd75"/>
<rect x="641" y="474" width="10" height="52" fill="#f0b662"/>
<rect x="655" y="474" width="10" height="52" fill="#fadd75"/>
<rect x="669" y="474" width="10" height="52" fill="#f0b662"/>
<rect x="683" y="474" width="10" height="52" fill="#f0b662"/>
<rect x="697" y="474" width="10" height="52" fill="#fadd75"/>
<rect x="711" y="474" width="10" height="52" fill="#f0b662"/>
<rect x="725" y="474" width="10" height="52" fill="#fadd75"/>
<rect x="739" y="474" width="10" height="52" fill="#fadd75"/>
<rect x="753" y="474" width="10" height="52" fill="#f0b662"/>
<rect x="767" y="474" width="10" height="52" fill="#fadd75"/>
<rect x="781" y="474" width="10" height="52" fill="#f0b662"/>
<rect x="795" y="474" width="10" height="52" fill="#f0b662"/>
<rect x="809" y="474" width="10" height="52" fill="#fadd75"/>
<rect x="823" y="474" width="10" height="52" fill="#f0b662"/>
<rect x="837" y="474" width="10" height="52" fill="#f0b662"/>
<rect x="851" y="474" width="10" height="52" fill="#f0b662"/>
<rect x="865" y="474" width="10" height="52" fill="#fadd75"/>
<rect x="879" y="474" width="10" height="52" fill="#f0b662"/>
<rect x="893" y="474" width="10" height="52" fill="#fadd75"/>
<rect x="907" y="474" width="10" height="52" fill="#fadd75"/>
<rect x="921" y="474" width="10" height="52" fill="#fadd75"/>
<rect x="935" y="474" width="10" height="52" fill="#f0b662"/>
<rect x="949" y="474" width="10" height="52" fill="#fadd75"/>
<rect x="963" y="474" width="10" height="52" fill="#fadd75"/>
<rect x="977" y="474" width="10" height="52" fill="#fadd75"/>
<rect x="991" y="474" width="10" height="52" fill="#fadd75"/>
<rect x="1005" y="474" width="10" height="52" fill="#f0b662"/>
<rect x="1019" y="474" width="10" height="52" fill="#fadd75"/>
<rect x="1033" y="474" width="10" height="52" fill="#f0b662"/>
<rect x="1047" y="474" width="10" height="52" fill="#fadd75"/>
<rect x="1061" y="474" width="10" height="52" fill="#fadd75"/>
<rect x="1075" y="474" width="10" height="52" fill="#fadd75"/>
<rect x="1089" y="474" width="10" height="52" fill="#f0b662"/>
<rect x="1103" y="474" width="10" height="52" fill="#fadd75"/>
<rect x="1117" y="474" width="10" height="52" fill="#fadd75"/>
<rect x="1131" y="474" width="10" height="52" fill="#fadd75"/>
<rect x="1145" y="474" width="10" height="52" fill="#fadd75"/>
<rect x="1159" y="474" width="10" height="52" fill="#fadd75"/>
<rect x="1173" y="474" width="10" height="52" fill="#fadd75"/>
<rect x="1187" y="474" width="10" height="52" fill="#fadd75"/>
<rect x="1201" y="474" width="10" height="52" fill="#f0b662"/>
<rect x="1215" y="474" width="10" height="52" fill="#fadd75"/>
<rect x="1229" y="474" width="10" height="52" fill="#fadd75"/>
<rect x="1243" y="474" width="10" height="52" fill="#f0b662"/>
<rect x="1257" y="474" width="10" height="52" fill="#f0b662"/>
<rect x="1271" y="474" width="10" height="52" fill="#fadd75"/>
<rect x="1285" y="474" width="10" height="52" fill="#f0b662"/>
<rect x="1299" y="474" width="10" height="52" fill="#f0b662"/>
<rect x="1313" y="474" width="10" height="52" fill="#fadd75"/>
<rect x="1327" y="474" width="10" height="52" fill="#fadd75"/>
<rect x="1341" y="474" width="10" height="52" fill="#f0b662"/>
<rect x="1355" y="474" width="10" height="52" fill="#fadd75"/>
<rect x="1369" y="474" width="10" height="52" fill="#fadd75"/>
<rect x="1383" y="474" width="10" height="52" fill="#f0b662"/>
<rect x="1397" y="474" width="10" height="52" fill="#fadd75"/>
<rect x="1411" y="474" width="10" height="52" fill="#f0b662"/>
<rect x="1425" y="474" width="10" height="52" fill="#fadd75"/>
<rect x="1439" y="474" width="10" height="52" fill="#fadd75"/>
<rect x="1453" y="474" width="10" height="52" fill="#f0b662"/>
<rect x="1467" y="474" width="10" height="52" fill="#fadd75"/>
<rect x="1481" y="474" width="10" height="52" fill="#f0b662"/>
<rect x="1495" y="474" width="10" height="52" fill="#f0b662"/>
<rect x="1509" y="474" width="10" height="52" fill="#fadd75"/>
<rect x="1523" y="474" width="10" height="52" fill="#fadd75"/>
<rect x="1537" y="474" width="10" height="52" fill="#fadd75"/>
<rect x="1551" y="474" width="10" height="52" fill="#fadd75"/>
<rect x="1565" y="474" width="10" height="52" fill="#f0b662"/>
<rect x="1579" y="474" width="10" height="52" fill="#f0b662"/>
<rect x="1593" y="474" width="10" height="52" fill="#fadd75"/>
<rect x="1607" y="474" width="10" height="52" fill="#fadd75"/>
<rect x="1621" y="474" width="10" height="52" fill="#f0b662"/>
<rect x="1635" y="474" width="10" height="52" fill="#f0b662"/>
<rect x="1649" y="474" width="10" height="52" fill="#fadd75"/>
<rect x="1663" y="474" width="10" height="52" fill="#fadd75"/>
<rect x="1677" y="474" width="10" height="52" fill="#f0b662"/>
<rect x="1691" y="474" width="10" height="52" fill="#f0b662"/>
<rect x="1705" y="474" width="10" height="52" fill="#fadd75"/>
<rect x="1719" y="474" width="10" height="52" fill="#f0b662"/>
<rect x="1733" y="474" width="10" height="52" fill="#f0b662"/>
<rect x="1747" y="474" width="10" height="52" fill="#f0b662"/>
<rect x="1761" y="474" width="10" height="52" fill="#f0b662"/>
<rect x="1775" y="474" width="10" height="52" fill="#f0b662"/>
<rect x="1789" y="474" width="10" height="52" fill="#fadd75"/>
<rect x="1803" y="474" width="10" height="52" fill="#f0b662"/>
<rect x="1817" y="474" width="10" height="52" fill="#fadd75"/>
<rect x="1831" y="474" width="10" height="52" fill="#fadd75"/>
<rect x="1845" y="474" width="10" height="52" fill="#f0b662"/>
<rect x="1859" y="474" width="10" height="52" fill="#f0b662"/>
<rect x="1873" y="474" width="10" height="52" fill="#f0b662"/>
<rect x="1887" y="474" width="10" height="52" fill="#fadd75"/>
<rect x="207" y="530" width="10" height="52" fill="#f0b662"/>
<rect x="221" y="530" width="10" height="52" fill="#f0b662"/>
<rect x="235" y="530" width="10" height="52" fill="#f0b662"/>
<rect x="249" y="530" width="10" height="52" fill="#f0b662"/>
<rect x="263" y="530" width="10" height="52" fill="#f0b662"/>
<rect x="277" y="530" width="10" height="52" fill="#f0b662"/>
<rect x="291" y="530" width="10" height="52" fill="#f0b662"/>
<rect x="305" y="530" width="10" height="52" fill="#f0b662"/>
<rect x="319" y="530" width="10" height="52" fill="#f0b662"/>
<rect x="333" y="530" width="10" height="52" fill="#f0b662"/>
<rect x="347" y="530" width="10" height="52" fill="#f0b662"/>
<rect x="361" y="530" width="10" height="52" fill="#f0b662"/>
<rect x="375" y="530" width="10" height="52" fill="#f0b662"/>
<rect x="389" y="530" width="10" height="52" fill="#f0b662"/>
<rect x="403" y="530" width="10" height="52" fill="#f0b662"/>
<rect x="417" y="530" width="10" height="52" fill="#f0b662"/>
<rect x="431" y="530" width="10" height="52" fill="#f0b662"/>
<rect x="445" y="530" width="10" height="52" fill="#f0b662"/>
<rect x="459" y="530" width="10" height="52" fill="#f0b662"/>
<rect x="473" y="530" width="10" height="52" fill="#f0b662"/>
<rect x="487" y="530" width="10" height="52" fill="#f0b662"/>
<rect x="501" y="530" width="10" height="52" fill="#f0b662"/>
<rect x="515" y="530" width="10" height="52" fill="#f0b662"/>
<rect x="529" y="530" width="10" height="52" fill="#dc4d48"/>
<rect x="543" y="530" width="10" height="52" fill="#f0b662"/>
<rect x="557" y="530" width="10" height="52" fill="#f0b662"/>
<rect x="571" y="530" width="10" height="52" fill="#f0b662"/>
<rect x="585" y="530" width="10" height="52" fill="#f0b662"/>
<rect x="599" y="530" width="10" height="52" fill="#f0b662"/>
<rect x="613" y="530" width="10" height="52" fill="#f0b662"/>
<rect x="627" y="530" width="10" height="52" fill="#f0b662"/>
<rect x="641" y="530" width="10" height="52" fill="#f0b662"/>
<rect x="655" y="530" width="10" height="52" fill="#f0b662"/>
<rect x="669" y="530" width="10" height="52" fill="#f0b662"/>
<rect x="683" y="530" width="10" height="52" fill="#f0b662"/>
<rect x="697" y="530" width="10" height="52" fill="#f0b662"/>
<rect x="711" y="530" width="10" height="52" fill="#f0b662"/>
<rect x="725" y="530" width="10" height="52" fill="#f0b662"/>
<rect x="739" y="530" width="10" height="52" fill="#f0b662"/>
<rect x="753" y="530" width="10" height="52" fill="#f0b662"/>
<rect x="767" y="530" width="10" height="52" fill="#f0b662"/>
<rect x="781" y="530" width="10" height="52" fill="#f0b662"/>
<rect x="795" y="530" width="10" height="52" fill="#f0b662"/>
<rect x="809" y="530" width="10" height="52" fill="#f0b662"/>
<rect x="823" y="530" width="10" height="52" fill="#f0b662"/>
<rect x="837" y="530" width="10" height="52" fill="#f0b662"/>
<rect x="851" y="530" width="10" height="52" fill="#f0b662"/>
<rect x="865" y="530" width="10" height="52" fill="#f0b662"/>
<rect x="879" y="530" width="10" height="52" fill="#f0b662"/>
<rect x="893" y="530" width="10" height="52" fill="#f0b662"/>
<rect x="907" y="530" width="10" height="52" fill="#f0b662"/>
<rect x="921" y="530" width="10" height="52" fill="#f0b662"/>
<rect x="935" y="530" width="10" height="52" fill="#f0b662"/>
<rect x="949" y="530" width="10" height="52" fill="#f0b662"/>
<rect x="963" y="530" width="10" height="52" fill="#f0b662"/>
<rect x="977" y="530" width="10" height="52" fill="#f0b662"/>
<rect x="991" y="530" width="10" height="52" fill="#f0b662"/>
<rect x="1005" y="530" width="10" height="52" fill="#f0b662"/>
<rect x="1019" y="530" width="10" height="52" fill="#f0b662"/>
<rect x="1033" y="530" width="10" height="52" fill="#f0b662"/>
<rect x="1047" y="530" width="10" height="52" fill="#f0b662"/>
<rect x="1061" y="530" width="10" height="52" fill="#f0b662"/>
<rect x="1075" y="530" width="10" height="52" fill="#f0b662"/>
<rect x="1089" y="530" width="10" height="52" fill="#f0b662"/>
<rect x="1103" y="530" width="10" height="52" fill="#f0b662"/>
<rect x="1117" y="530" width="10" height="52" fill="#f0b662"/>
<rect x="1131" y="530" width="10" height="52" fill="#f0b662"/>
<rect x="1145" y="530" width="10" height="52" fill="#f0b662"/>
<rect x="1159" y="530" width="10" height="52" fill="#f0b662"/>
<rect x="1173" y="530" width="10" height="52" fill="#f0b662"/>
<rect x="1187" y="530" width="10" height="52" fill="#f0b662"/>
<rect x="1201" y="530" width="10" height="52" fill="#f0b662"/>
<rect x="1215" y="530" width="10" height="52" fill="#f0b662"/>
<rect x="1229" y="530" width="10" height="52" fill="#f0b662"/>
<rect x="1243" y="530" width="10" height="52" fill="#f0b662"/>
<rect x="1257" y="530" width="10" height="52" fill="#f0b662"/>
<rect x="1271" y="530" width="10" height="52" fill="#f0b662"/>
<rect x="1285" y="530" width="10" height="52" fill="#f0b662"/>
<rect x="1299" y="530" width="10" height="52" fill="#f0b662"/>
<rect x="1313" y="530" width="10" height="52" fill="#f0b662"/>
<rect x="1327" y="530" width="10" height="52" fill="#f0b662"/>
<rect x="1341" y="530" width="10" height="52" fill="#f0b662"/>
<rect x="1355" y="530" width="10" height="52" fill="#f0b662"/>
<rect x="1369" y="530" width="10" height="52" fill="#f0b662"/>
<rect x="1383" y="530" width="10" height="52" fill="#f0b662"/>
<rect x="1397" y="530" width="10" height="52" fill="#f0b662"/>
<rect x="1411" y="530" width="10" height="52" fill="#f0b662"/>
<rect x="1425" y="530" width="10" height="52" fill="#f0b662"/>
<rect x="1439" y="530" width="10" height="52" fill="#f0b662"/>
<rect x="1453" y="530" width="10" height="52" fill="#f0b662"/>
<rect x="1467" y="530" width="10" height="52" fill="#f0b662"/>
<rect x="1481" y="530" width="10" height="52" fill="#f0b662"/>
<rect x="1495" y="530" width="10" height="52" fill="#f0b662"/>
<rect x="1509" y="530" width="10" height="52" fill="#f0b662"/>
<rect x="1523" y="530" width="10" height="52" fill="#f0b662"/>
<rect x="1537" y="530" width="10" height="52" fill="#f0b662"/>
<rect x="1551" y="530" width="10" height="52" fill="#f0b662"/>
<rect x="1565" y="530" width="10" height="52" fill="#f0b662"/>
<rect x="1579" y="530" width="10" height="52" fill="#f0b662"/>
<rect x="1593" y="530" width="10" height="52" fill="#f0b662"/>
<rect x="1607" y="530" width="10" height="52" fill="#f0b662"/>
<rect x="1621" y="530" width="10" height="52" fill="#f0b662"/>
<rect x="1635" y="530" width="10" height="52" fill="#f0b662"/>
<rect x="1649" y="530" width="10" height="52" fill="#f0b662"/>
<rect x="1663" y="530" width="10" height="52" fill="#f0b662"/>
<rect x="1677" y="530" width="10" height="52" fill="#f0b662"/>
<rect x="1691" y="530" width="10" height="52" fill="#f0b662"/>
<rect x="1705" y="530" width="10" height="52" fill="#f0b662"/>
<rect x="1719" y="530" width="10" height="52" fill="#f0b662"/>
<rect x="1733" y="530" width="10" height="52" fill="#f0b662"/>
<rect x="1747" y="530" width="10" height="52" fill="#f0b662"/>
<rect x="1761" y="530" width="10" height="52" fill="#f0b662"/>
<rect x="1775" y="530" width="10" height="52" fill="#f0b662"/>
<rect x="1789" y="530" width="10" height="52" fill="#f0b662"/>
<rect x="1803" y="530" width="10" height="52" fill="#f0b662"/>
<rect x="1817" y="530" width="10" height="52" fill="#f0b662"/>
<rect x="1831" y="530" width="10" height="52" fill="#f0b662"/>
<rect x="1845" y="530" width="10" height="52" fill="#f0b662"/>
<rect x="1859" y="530" width="10" height="52" fill="#f0b662"/>
<rect x="1873" y="530" width="10" height="52" fill="#f0b662"/>
<rect x="1887" y="530" width="10" height="52" fill="#dc4d48"/>
<rect x="207" y="586" width="10" height="52" fill="#f0b662"/>
<rect x="221" y="586" width="10" height="52" fill="#dc4d48"/>
<rect x="235" y="586" width="10" height="52" fill="#dc4d48"/>
<rect x="249" y="586" width="10" height="52" fill="#dc4d48"/>
<rect x="263" y="586" width="10" height="52" fill="#dc4d48"/>
<rect x="277" y="586" width="10" height="52" fill="#dc4d48"/>
<rect x="291" y="586" width="10" height="52" fill="#dc4d48"/>
<rect x="305" y="586" width="10" height="52" fill="#f0b662"/>
<rect x="319" y="586" width="10" height="52" fill="#f0b662"/>
<rect x="333" y="586" width="10" height="52" fill="#f0b662"/>
<rect x="347" y="586" width="10" height="52" fill="#dc4d48"/>
<rect x="361" y="586" width="10" height="52" fill="#dc4d48"/>
<rect x="375" y="586" width="10" height="52" fill="#f0b662"/>
<rect x="389" y="586" width="10" height="52" fill="#dc4d48"/>
<rect x="403" y="586" width="10" height="52" fill="#f0b662"/>
<rect x="417" y="586" width="10" height="52" fill="#dc4d48"/>
<rect x="431" y="586" width="10" height="52" fill="#dc4d48"/>
<rect x="445" y="586" width="10" height="52" fill="#f0b662"/>
<rect x="459" y="586" width="10" height="52" fill="#f0b662"/>
<rect x="473" y="586" width="10" height="52" fill="#dc4d48"/>
<rect x="487" y="586" width="10" height="52" fill="#f0b662"/>
<rect x="501" y="586" width="10" height="52" fill="#f0b662"/>
<rect x="515" y="586" width="10" height="52" fill="#dc4d48"/>
<rect x="529" y="586" width="10" height="52" fill="#f0b662"/>
<rect x="543" y="586" width="10" height="52" fill="#dc4d48"/>
<rect x="557" y="586" width="10" height="52" fill="#f0b662"/>
<rect x="571" y="586" width="10" height="52" fill="#dc4d48"/>
<rect x="585" y="586" width="10" height="52" fill="#dc4d48"/>
<rect x="599" y="586" width="10" height="52" fill="#f0b662"/>
<rect x="613" y="586" width="10" height="52" fill="#dc4d48"/>
<rect x="627" y="586" width="10" height="52" fill="#dc4d48"/>
<rect x="641" y="586" width="10" height="52" fill="#dc4d48"/>
<rect x="655" y="586" width="10" height="52" fill="#dc4d48"/>
<rect x="669" y="586" width="10" height="52" fill="#dc4d48"/>
<rect x="683" y="586" width="10" height="52" fill="#dc4d48"/>
<rect x="697" y="586" width="10" height="52" fill="#dc4d48"/>
<rect x="711" y="586" width="10" height="52" fill="#dc4d48"/>
<rect x="725" y="586" width="10" height="52" fill="#dc4d48"/>
<rect x="739" y="586" width="10" height="52" fill="#dc4d48"/>
<rect x="753" y="586" width="10" height="52" fill="#dc4d48"/>
<rect x="767" y="586" width="10" height="52" fill="#f0b662"/>
<rect x="781" y="586" width="10" height="52" fill="#dc4d48"/>
<rect x="795" y="586" width="10" height="52" fill="#dc4d48"/>
<rect x="809" y="586" width="10" height="52" fill="#dc4d48"/>
<rect x="823" y="586" width="10" height="52" fill="#dc4d48"/>
<rect x="837" y="586" width="10" height="52" fill="#dc4d48"/>
<rect x="851" y="586" width="10" height="52" fill="#dc4d48"/>
<rect x="865" y="586" width="10" height="52" fill="#dc4d48"/>
<rect x="879" y="586" width="10" height="52" fill="#dc4d48"/>
<rect x="893" y="586" width="10" height="52" fill="#f0b662"/>
<rect x="907" y="586" width="10" height="52" fill="#dc4d48"/>
<rect x="921" y="586" width="10" height="52" fill="#dc4d48"/>
<rect x="935" y="586" width="10" height="52" fill="#f0b662"/>
<rect x="949" y="586" width="10" height="52" fill="#f0b662"/>
<rect x="963" y="586" width="10" height="52" fill="#dc4d48"/>
<rect x="977" y="586" width="10" height="52" fill="#dc4d48"/>
<rect x="991" y="586" width="10" height="52" fill="#dc4d48"/>
<rect x="1005" y="586" width="10" height="52" fill="#dc4d48"/>
<rect x="1019" y="586" width="10" height="52" fill="#dc4d48"/>
<rect x="1033" y="586" width="10" height="52" fill="#dc4d48"/>
<rect x="1047" y="586" width="10" height="52" fill="#f0b662"/>
<rect x="1061" y="586" width="10" height="52" fill="#dc4d48"/>
<rect x="1075" y="586" width="10" height="52" fill="#dc4d48"/>
<rect x="1089" y="586" width="10" height="52" fill="#dc4d48"/>
<rect x="1103" y="586" width="10" height="52" fill="#dc4d48"/>
<rect x="1117" y="586" width="10" height="52" fill="#dc4d48"/>
<rect x="1131" y="586" width="10" height="52" fill="#dc4d48"/>
<rect x="1145" y="586" width="10" height="52" fill="#dc4d48"/>
<rect x="1159" y="586" width="10" height="52" fill="#f0b662"/>
<rect x="1173" y="586" width="10" height="52" fill="#dc4d48"/>
<rect x="1187" y="586" width="10" height="52" fill="#f0b662"/>
<rect x="1201" y="586" width="10" height="52" fill="#f0b662"/>
<rect x="1215" y="586" width="10" height="52" fill="#dc4d48"/>
<rect x="1229" y="586" width="10" height="52" fill="#dc4d48"/>
<rect x="1243" y="586" width="10" height="52" fill="#dc4d48"/>
<rect x="1257" y="586" width="10" height="52" fill="#dc4d48"/>
<rect x="1271" y="586" width="10" height="52" fill="#dc4d48"/>
<rect x="1285" y="586" width="10" height="52" fill="#dc4d48"/>
<rect x="1299" y="586" width="10" height="52" fill="#dc4d48"/>
<rect x="1313" y="586" width="10" height="52" fill="#dc4d48"/>
<rect x="1327" y="586" width="10" height="52" fill="#dc4d48"/>
<rect x="1341" y="586" width="10" height="52" fill="#dc4d48"/>
<rect x="1355" y="586" width="10" height="52" fill="#dc4d48"/>
<rect x="1369" y="586" width="10" height="52" fill="#dc4d48"/>
<rect x="1383" y="586" width="10" height="52" fill="#dc4d48"/>
<rect x="1397" y="586" width="10" height="52" fill="#dc4d48"/>
<rect x="1411" y="586" width="10" height="52" fill="#dc4d48"/>
<rect x="1425" y="586" width="10" height="52" fill="#f0b662"/>
<rect x="1439" y="586" width="10" height="52" fill="#f0b662"/>
<rect x="1453" y="586" width="10" height="52" fill="#dc4d48"/>
<rect x="1467" y="586" width="10" height="52" fill="#dc4d48"/>
<rect x="1481" y="586" width="10" height="52" fill="#f0b662"/>
<rect x="1495" y="586" width="10" height="52" fill="#f0b662"/>
<rect x="1509" y="586" width="10" height="52" fill="#dc4d48"/>
<rect x="1523" y="586" width="10" height="52" fill="#dc4d48"/>
<rect x="1537" y="586" width="10" height="52" fill="#dc4d48"/>
<rect x="1551" y="586" width="10" height="52" fill="#dc4d48"/>
<rect x="1565" y="586" width="10" height="52" fill="#dc4d48"/>
<rect x="1579" y="586" width="10" height="52" fill="#f0b662"/>
<rect x="1593" y="586" width="10" height="52" fill="#dc4d48"/>
<rect x="1607" y="586" width="10" height="52" fill="#dc4d48"/>
<rect x="1621" y="586" width="10" height="52" fill="#dc4d48"/>
<rect x="1635" y="586" width="10" height="52" fill="#dc4d48"/>
<rect x="1649" y="586" width="10" height="52" fill="#dc4d48"/>
<rect x="1663" y="586" width="10" height="52" fill="#f0b662"/>
<rect x="1677" y="586" width="10" height="52" fill="#f0b662"/>
<rect x="1691" y="586" width="10" height="52" fill="#dc4d48"/>
<rect x="1705" y="586" width="10" height="52" fill="#dc4d48"/>
<rect x="1719" y="586" width="10" height="52" fill="#dc4d48"/>
<rect x="1733" y="586" width="10" height="52" fill="#dc4d48"/>
<rect x="1747" y="586" width="10" height="52" fill="#dc4d48"/>
<rect x="1761" y="586" width="10" height="52" fill="#dc4d48"/>
<rect x="1775" y="586" width="10" height="52" fill="#dc4d48"/>
<rect x="1789" y="586" width="10" height="52" fill="#dc4d48"/>
<rect x="1803" y="586" width="10" height="52" fill="#dc4d48"/>
<rect x="1817" y="586" width="10" height="52" fill="#dc4d48"/>
<rect x="1831" y="586" width="10" height="52" fill="#dc4d48"/>
<rect x="1845" y="586" width="10" height="52" fill="#dc4d48"/>
<rect x="1859" y="586" width="10" height="52" fill="#dc4d48"/>
<rect x="1873" y="586" width="10" height="52" fill="#dc4d48"/>
<rect x="1887" y="586" width="10" height="52" fill="#dc4d48"/>
<rect x="207" y="642" width="10" height="52" fill="#f0b662"/>
<rect x="221" y="642" width="10" height="52" fill="#f0b662"/>
<rect x="235" y="642" width="10" height="52" fill="#dc4d48"/>
<rect x="249" y="642" width="10" height="52" fill="#dc4d48"/>
<rect x="263" y="642" width="10" height="52" fill="#f0b662"/>
<rect x="277" y="642" width="10" height="52" fill="#f0b662"/>
<rect x="291" y="642" width="10" height="52" fill="#dc4d48"/>
<rect x="305" y="642" width="10" height="52" fill="#f0b662"/>
<rect x="319" y="642" width="10" height="52" fill="#f0b662"/>
<rect x="333" y="642" width="10" height="52" fill="#dc4d48"/>
<rect x="347" y="642" width="10" height="52" fill="#dc4d48"/>
<rect x="361" y="642" width="10" height="52" fill="#dc4d48"/>
<rect x="375" y="642" width="10" height="52" fill="#f0b662"/>
<rect x="389" y="642" width="10" height="52" fill="#f0b662"/>
<rect x="403" y="642" width="10" height="52" fill="#f0b662"/>
<rect x="417" y="642" width="10" height="52" fill="#f0b662"/>
<rect x="431" y="642" width="10" height="52" fill="#f0b662"/>
<rect x="445" y="642" width="10" height="52" fill="#f0b662"/>
<rect x="459" y="642" width="10" height="52" fill="#dc4d48"/>
<rect x="473" y="642" width="10" height="52" fill="#dc4d48"/>
<rect x="487" y="642" width="10" height="52" fill="#dc4d48"/>
<rect x="501" y="642" width="10" height="52" fill="#f0b662"/>
<rect x="515" y="642" width="10" height="52" fill="#dc4d48"/>
<rect x="529" y="642" width="10" height="52" fill="#f0b662"/>
<rect x="543" y="642" width="10" height="52" fill="#dc4d48"/>
<rect x="557" y="642" width="10" height="52" fill="#dc4d48"/>
<rect x="571" y="642" width="10" height="52" fill="#f0b662"/>
<rect x="585" y="642" width="10" height="52" fill="#f0b662"/>
<rect x="599" y="642" width="10" height="52" fill="#f0b662"/>
<rect x="613" y="642" width="10" height="52" fill="#f0b662"/>
<rect x="627" y="642" width="10" height="52" fill="#f0b662"/>
<rect x="641" y="642" width="10" height="52" fill="#f0b662"/>
<rect x="655" y="642" width="10" height="52" fill="#f0b662"/>
<rect x="669" y="642" width="10" height="52" fill="#f0b662"/>
<rect x="683" y="642" width="10" height="52" fill="#dc4d48"/>
<rect x="697" y="642" width="10" height="52" fill="#f0b662"/>
<rect x="711" y="642" width="10" height="52" fill="#dc4d48"/>
<rect x="725" y="642" width="10" height="52" fill="#f0b662"/>
<rect x="739" y="642" width="10" height="52" fill="#dc4d48"/>
<rect x="753" y="642" width="10" height="52" fill="#dc4d48"/>
<rect x="767" y="642" width="10" height="52" fill="#dc4d48"/>
<rect x="781" y="642" width="10" height="52" fill="#dc4d48"/>
<rect x="795" y="642" width="10" height="52" fill="#dc4d48"/>
<rect x="809" y="642" width="10" height="52" fill="#dc4d48"/>
<rect x="823" y="642" width="10" height="52" fill="#dc4d48"/>
<rect x="837" y="642" width="10" height="52" fill="#dc4d48"/>
<rect x="851" y="642" width="10" height="52" fill="#f0b662"/>
<rect x="865" y="642" width="10" height="52" fill="#dc4d48"/>
<rect x="879" y="642" width="10" height="52" fill="#f0b662"/>
<rect x="893" y="642" width="10" height="52" fill="#f0b662"/>
<rect x="907" y="642" width="10" height="52" fill="#f0b662"/>
<rect x="921" y="642" width="10" height="52" fill="#dc4d48"/>
<rect x="935" y="642" width="10" height="52" fill="#f0b662"/>
<rect x="949" y="642" width="10" height="52" fill="#f0b662"/>
<rect x="963" y="642" width="10" height="52" fill="#f0b662"/>
<rect x="977" y="642" width="10" height="52" fill="#dc4d48"/>
<rect x="991" y="642" width="10" height="52" fill="#f0b662"/>
<rect x="1005" y="642" width="10" height="52" fill="#dc4d48"/>
<rect x="1019" y="642" width="10" height="52" fill="#f0b662"/>
<rect x="1033" y="642" width="10" height="52" fill="#f0b662"/>
<rect x="1047" y="642" width="10" height="52" fill="#dc4d48"/>
<rect x="1061" y="642" width="10" height="52" fill="#f0b662"/>
<rect x="1075" y="642" width="10" height="52" fill="#f0b662"/>
<rect x="1089" y="642" width="10" height="52" fill="#dc4d48"/>
<rect x="1103" y="642" width="10" height="52" fill="#dc4d48"/>
<rect x="1117" y="642" width="10" height="52" fill="#dc4d48"/>
<rect x="1131" y="642" width="10" height="52" fill="#dc4d48"/>
<rect x="1145" y="642" width="10" height="52" fill="#dc4d48"/>
<rect x="1159" y="642" width="10" height="52" fill="#f0b662"/>
<rect x="1173" y="642" width="10" height="52" fill="#dc4d48"/>
<rect x="1187" y="642" width="10" height="52" fill="#dc4d48"/>
<rect x="1201" y="642" width="10" height="52" fill="#dc4d48"/>
<rect x="1215" y="642" width="10" height="52" fill="#dc4d48"/>
<rect x="1229" y="642" width="10" height="52" fill="#f0b662"/>
<rect x="1243" y="642" width="10" height="52" fill="#dc4d48"/>
<rect x="1257" y="642" width="10" height="52" fill="#dc4d48"/>
<rect x="1271" y="642" width="10" height="52" fill="#dc4d48"/>
<rect x="1285" y="642" width="10" height="52" fill="#dc4d48"/>
<rect x="1299" y="642" width="10" height="52" fill="#f0b662"/>
<rect x="1313" y="642" width="10" height="52" fill="#dc4d48"/>
<rect x="1327" y="642" width="10" height="52" fill="#f0b662"/>
<rect x="1341" y="642" width="10" height="52" fill="#f0b662"/>
<rect x="1355" y="642" width="10" height="52" fill="#dc4d48"/>
<rect x="1369" y="642" width="10" height="52" fill="#dc4d48"/>
<rect x="1383" y="642" width="10" height="52" fill="#f0b662"/>
<rect x="1397" y="642" width="10" height="52" fill="#f0b662"/>
<rect x="1411" y="642" width="10" height="52" fill="#dc4d48"/>
<rect x="1425" y="642" width="10" height="52" fill="#dc4d48"/>
<rect x="1439" y="642" width="10" height="52" fill="#dc4d48"/>
<rect x="1453" y="642" width="10" height="52" fill="#dc4d48"/>
<rect x="1467" y="642" width="10" height="52" fill="#f0b662"/>
<rect x="1481" y="642" width="10" height="52" fill="#dc4d48"/>
<rect x="1495" y="642" width="10" height="52" fill="#dc4d48"/>
<rect x="1509" y="642" width="10" height="52" fill="#dc4d48"/>
<rect x="1523" y="642" width="10" height="52" fill="#f0b662"/>
<rect x="1537" y="642" width="10" height="52" fill="#dc4d48"/>
<rect x="1551" y="642" width="10" height="52" fill="#f0b662"/>
<rect x="1565" y="642" width="10" height="52" fill="#dc4d48"/>
<rect x="1579" y="642" width="10" height="52" fill="#f0b662"/>
<rect x="1593" y="642" width="10" height="52" fill="#dc4d48"/>
<rect x="1607" y="642" width="10" height="52" fill="#dc4d48"/>
<rect x="1621" y="642" width="10" height="52" fill="#dc4d48"/>
<rect x="1635" y="642" width="10" height="52" fill="#dc4d48"/>
<rect x="1649" y="642" width="10" height="52" fill="#dc4d48"/>
<rect x="1663" y="642" width="10" height="52" fill="#f0b662"/>
<rect x="1677" y="642" width="10" height="52" fill="#dc4d48"/>
<rect x="1691" y="642" width="10" height="52" fill="#dc4d48"/>
<rect x="1705" y="642" width="10" height="52" fill="#dc4d48"/>
<rect x="1719" y="642" width="10" height="52" fill="#dc4d48"/>
<rect x="1733" y="642" width="10" height="52" fill="#dc4d48"/>
<rect x="1747" y="642" width="10" height="52" fill="#dc4d48"/>
<rect x="1761" y="642" width="10" height="52" fill="#dc4d48"/>
<rect x="1775" y="642" width="10" height="52" fill="#dc4d48"/>
<rect x="1789" y="642" width="10" height="52" fill="#dc4d48"/>
<rect x="1803" y="642" width="10" height="52" fill="#dc4d48"/>
<rect x="1817" y="642" width="10" height="52" fill="#dc4d48"/>
<rect x="1831" y="642" width="10" height="52" fill="#f0b662"/>
<rect x="1845" y="642" width="10" height="52" fill="#dc4d48"/>
<rect x="1859" y="642" width="10" height="52" fill="#dc4d48"/>
<rect x="1873" y="642" width="10" height="52" fill="#dc4d48"/>
<rect x="1887" y="642" width="10" height="52" fill="#dc4d48"/>
<rect x="207" y="698" width="10" height="52" fill="#f0b662"/>
<rect x="221" y="698" width="10" height="52" fill="#f0b662"/>
<rect x="235" y="698" width="10" height="52" fill="#f0b662"/>
<rect x="249" y="698" width="10" height="52" fill="#f0b662"/>
<rect x="263" y="698" width="10" height="52" fill="#f0b662"/>
<rect x="277" y="698" width="10" height="52" fill="#f0b662"/>
<rect x="291" y="698" width="10" height="52" fill="#f0b662"/>
<rect x="305" y="698" width="10" height="52" fill="#f0b662"/>
<rect x="319" y="698" width="10" height="52" fill="#f0b662"/>
<rect x="333" y="698" width="10" height="52" fill="#f0b662"/>
<rect x="347" y="698" width="10" height="52" fill="#f0b662"/>
<rect x="361" y="698" width="10" height="52" fill="#f0b662"/>
<rect x="375" y="698" width="10" height="52" fill="#f0b662"/>
<rect x="389" y="698" width="10" height="52" fill="#f0b662"/>
<rect x="403" y="698" width="10" height="52" fill="#f0b662"/>
<rect x="417" y="698" width="10" height="52" fill="#f0b662"/>
<rect x="431" y="698" width="10" height="52" fill="#f0b662"/>
<rect x="445" y="698" width="10" height="52" fill="#f0b662"/>
<rect x="459" y="698" width="10" height="52" fill="#f0b662"/>
<rect x="473" y="698" width="10" height="52" fill="#f0b662"/>
<rect x="487" y="698" width="10" height="52" fill="#f0b662"/>
<rect x="501" y="698" width="10" height="52" fill="#f0b662"/>
<rect x="515" y="698" width="10" height="52" fill="#f0b662"/>
<rect x="529" y="698" width="10" height="52" fill="#f0b662"/>
<rect x="543" y="698" width="10" height="52" fill="#f0b662"/>
<rect x="557" y="698" width="10" height="52" fill="#f0b662"/>
<rect x="571" y="698" width="10" height="52" fill="#f0b662"/>
<rect x="585" y="698" width="10" height="52" fill="#f0b662"/>
<rect x="599" y="698" width="10" height="52" fill="#f0b662"/>
<rect x="613" y="698" width="10" height="52" fill="#f0b662"/>
<rect x="627" y="698" width="10" height="52" fill="#f0b662"/>
<rect x="641" y="698" width="10" height="52" fill="#f0b662"/>
<rect x="655" y="698" width="10" height="52" fill="#f0b662"/>
<rect x="669" y="698" width="10" height="52" fill="#f0b662"/>
<rect x="683" y="698" width="10" height="52" fill="#f0b662"/>
<rect x="697" y="698" width="10" height="52" fill="#f0b662"/>
<rect x="711" y="698" width="10" height="52" fill="#f0b662"/>
<rect x="725" y="698" width="10" height="52" fill="#f0b662"/>
<rect x="739" y="698" width="10" height="52" fill="#f0b662"/>
<rect x="753" y="698" width="10" height="52" fill="#f0b662"/>
<rect x="767" y="698" width="10" height="52" fill="#f0b662"/>
<rect x="781" y="698" width="10" height="52" fill="#f0b662"/>
<rect x="795" y="698" width="10" height="52" fill="#f0b662"/>
<rect x="809" y="698" width="10" height="52" fill="#f0b662"/>
<rect x="823" y="698" width="10" height="52" fill="#f0b662"/>
<rect x="837" y="698" width="10" height="52" fill="#f0b662"/>
<rect x="851" y="698" width="10" height="52" fill="#f0b662"/>
<rect x="865" y="698" width="10" height="52" fill="#f0b662"/>
<rect x="879" y="698" width="10" height="52" fill="#f0b662"/>
<rect x="893" y="698" width="10" height="52" fill="#f0b662"/>
<rect x="907" y="698" width="10" height="52" fill="#f0b662"/>
<rect x="921" y="698" width="10" height="52" fill="#f0b662"/>
<rect x="935" y="698" width="10" height="52" fill="#f0b662"/>
<rect x="949" y="698" width="10" height="52" fill="#f0b662"/>
<rect x="963" y="698" width="10" height="52" fill="#f0b662"/>
<rect x="977" y="698" width="10" height="52" fill="#f0b662"/>
<rect x="991" y="698" width="10" height="52" fill="#f0b662"/>
<rect x="1005" y="698" width="10" height="52" fill="#f0b662"/>
<rect x="1019" y="698" width="10" height="52" fill="#f0b662"/>
<rect x="1033" y="698" width="10" height="52" fill="#f0b662"/>
<rect x="1047" y="698" width="10" height="52" fill="#f0b662"/>
<rect x="1061" y="698" width="10" height="52" fill="#f0b662"/>
<rect x="1075" y="698" width="10" height="52" fill="#f0b662"/>
<rect x="1089" y="698" width="10" height="52" fill="#f0b662"/>
<rect x="1103" y="698" width="10" height="52" fill="#f0b662"/>
<rect x="1117" y="698" width="10" height="52" fill="#f0b662"/>
<rect x="1131" y="698" width="10" height="52" fill="#f0b662"/>
<rect x="1145" y="698" width="10" height="52" fill="#f0b662"/>
<rect x="1159" y="698" width="10" height="52" fill="#f0b662"/>
<rect x="1173" y="698" width="10" height="52" fill="#f0b662"/>
<rect x="1187" y="698" width="10" height="52" fill="#f0b662"/>
<rect x="1201" y="698" width="10" height="52" fill="#f0b662"/>
<rect x="1215" y="698" width="10" height="52" fill="#f0b662"/>
<rect x="1229" y="698" width="10" height="52" fill="#f0b662"/>
<rect x="1243" y="698" width="10" height="52" fill="#f0b662"/>
<rect x="1257" y="698" width="10" height="52" fill="#f0b662"/>
<rect x="1271" y="698" width="10" height="52" fill="#f0b662"/>
<rect x="1285" y="698" width="10" height="52" fill="#f0b662"/>
<rect x="1299" y="698" width="10" height="52" fill="#f0b662"/>
<rect x="1313" y="698" width="10" height="52" fill="#f0b662"/>
<rect x="1327" y="698" width="10" height="52" fill="#f0b662"/>
<rect x="1341" y="698" width="10" height="52" fill="#f0b662"/>
<rect x="1355" y="698" width="10" height="52" fill="#f0b662"/>
<rect x="1369" y="698" width="10" height="52" fill="#f0b662"/>
<rect x="1383" y="698" width="10" height="52" fill="#f0b662"/>
<rect x="1397" y="698" width="10" height="52" fill="#f0b662"/>
<rect x="1411" y="698" width="10" height="52" fill="#f0b662"/>
<rect x="1425" y="698" width="10" height="52" fill="#f0b662"/>
<rect x="1439" y="698" width="10" height="52" fill="#f0b662"/>
<rect x="1453" y="698" width="10" height="52" fill="#f0b662"/>
<rect x="1467" y="698" width="10" height="52" fill="#f0b662"/>
<rect x="1481" y="698" width="10" height="52" fill="#f0b662"/>
<rect x="1495" y="698" width="10" height="52" fill="#f0b662"/>
<rect x="1509" y="698" width="10" height="52" fill="#f0b662"/>
<rect x="1523" y="698" width="10" height="52" fill="#f0b662"/>
<rect x="1537" y="698" width="10" height="52" fill="#f0b662"/>
<rect x="1551" y="698" width="10" height="52" fill="#f0b662"/>
<rect x="1565" y="698" width="10" height="52" fill="#f0b662"/>
<rect x="1579" y="698" width="10" height="52" fill="#f0b662"/>
<rect x="1593" y="698" width="10" height="52" fill="#f0b662"/>
<rect x="1607" y="698" width="10" height="52" fill="#f0b662"/>
<rect x="1621" y="698" width="10" height="52" fill="#f0b662"/>
<rect x="1635" y="698" width="10" height="52" fill="#f0b662"/>
<rect x="1649" y="698" width="10" height="52" fill="#f0b662"/>
<rect x="1663" y="698" width="10" height="52" fill="#f0b662"/>
<rect x="1677" y="698" width="10" height="52" fill="#f0b662"/>
<rect x="1691" y="698" width="10" height="52" fill="#f0b662"/>
<rect x="1705" y="698" width="10" height="52" fill="#f0b662"/>
<rect x="1719" y="698" width="10" height="52" fill="#f0b662"/>
<rect x="1733" y="698" width="10" height="52" fill="#f0b662"/>
<rect x="1747" y="698" width="10" height="52" fill="#f0b662"/>
<rect x="1761" y="698" width="10" height="52" fill="#f0b662"/>
<rect x="1775" y="698" width="10" height="52" fill="#f0b662"/>
<rect x="1789" y="698" width="10" height="52" fill="#f0b662"/>
<rect x="1803" y="698" width="10" height="52" fill="#f0b662"/>
<rect x="1817" y="698" width="10" height="52" fill="#f0b662"/>
<rect x="1831" y="698" width="10" height="52" fill="#f0b662"/>
<rect x="1845" y="698" width="10" height="52" fill="#f0b662"/>
<rect x="1859" y="698" width="10" height="52" fill="#f0b662"/>
<rect x="1873" y="698" width="10" height="52" fill="#f0b662"/>
<rect x="1887" y="698" width="10" height="52" fill="#f0b662"/>
<rect x="207" y="754" width="10" height="52" fill="#fadd75"/>
<rect x="221" y="754" width="10" height="52" fill="#fadd75"/>
<rect x="235" y="754" width="10" height="52" fill="#fadd75"/>
<rect x="249" y="754" width="10" height="52" fill="#fadd75"/>
<rect x="263" y="754" width="10" height="52" fill="#fadd75"/>
<rect x="277" y="754" width="10" height="52" fill="#fadd75"/>
<rect x="291" y="754" width="10" height="52" fill="#fadd75"/>
<rect x="305" y="754" width="10" height="52" fill="#fadd75"/>
<rect x="319" y="754" width="10" height="52" fill="#fadd75"/>
<rect x="333" y="754" width="10" height="52" fill="#fadd75"/>
<rect x="347" y="754" width="10" height="52" fill="#fadd75"/>
<rect x="361" y="754" width="10" height="52" fill="#fadd75"/>
<rect x="375" y="754" width="10" height="52" fill="#fadd75"/>
<rect x="389" y="754" width="10" height="52" fill="#fadd75"/>
<rect x="403" y="754" width="10" height="52" fill="#fadd75"/>
<rect x="417" y="754" width="10" height="52" fill="#fadd75"/>
<rect x="431" y="754" width="10" height="52" fill="#fadd75"/>
<rect x="445" y="754" width="10" height="52" fill="#fadd75"/>
<rect x="459" y="754" width="10" height="52" fill="#fadd75"/>
<rect x="473" y="754" width="10" height="52" fill="#fadd75"/>
<rect x="487" y="754" width="10" height="52" fill="#fadd75"/>
<rect x="501" y="754" width="10" height="52" fill="#fadd75"/>
<rect x="515" y="754" width="10" height="52" fill="#f0b662"/>
<rect x="529" y="754" width="10" height="52" fill="#fadd75"/>
<rect x="543" y="754" width="10" height="52" fill="#fadd75"/>
<rect x="557" y="754" width="10" height="52" fill="#fadd75"/>
<rect x="571" y="754" width="10" height="52" fill="#fadd75"/>
<rect x="585" y="754" width="10" height="52" fill="#fadd75"/>
<rect x="599" y="754" width="10" height="52" fill="#fadd75"/>
<rect x="613" y="754" width="10" height="52" fill="#fadd75"/>
<rect x="627" y="754" width="10" height="52" fill="#fadd75"/>
<rect x="641" y="754" width="10" height="52" fill="#fadd75"/>
<rect x="655" y="754" width="10" height="52" fill="#fadd75"/>
<rect x="669" y="754" width="10" height="52" fill="#fadd75"/>
<rect x="683" y="754" width="10" height="52" fill="#fadd75"/>
<rect x="697" y="754" width="10" height="52" fill="#fadd75"/>
<rect x="711" y="754" width="10" height="52" fill="#fadd75"/>
<rect x="725" y="754" width="10" height="52" fill="#fadd75"/>
<rect x="739" y="754" width="10" height="52" fill="#f0b662"/>
<rect x="753" y="754" width="10" height="52" fill="#fadd75"/>
<rect x="767" y="754" width="10" height="52" fill="#fadd75"/>
<rect x="781" y="754" width="10" height="52" fill="#fadd75"/>
<rect x="795" y="754" width="10" height="52" fill="#fadd75"/>
<rect x="809" y="754" width="10" height="52" fill="#fadd75"/>
<rect x="823" y="754" width="10" height="52" fill="#fadd75"/>
<rect x="837" y="754" width="10" height="52" fill="#fadd75"/>
<rect x="851" y="754" width="10" height="52" fill="#fadd75"/>
<rect x="865" y="754" width="10" height="52" fill="#fadd75"/>
<rect x="879" y="754" width="10" height="52" fill="#fadd75"/>
<rect x="893" y="754" width="10" height="52" fill="#fadd75"/>
<rect x="907" y="754" width="10" height="52" fill="#fadd75"/>
<rect x="921" y="754" width="10" height="52" fill="#fadd75"/>
<rect x="935" y="754" width="10" height="52" fill="#fadd75"/>
<rect x="949" y="754" width="10" height="52" fill="#fadd75"/>
<rect x="963" y="754" width="10" height="52" fill="#fadd75"/>
<rect x="977" y="754" width="10" height="52" fill="#fadd75"/>
<rect x="991" y="754" width="10" height="52" fill="#fadd75"/>
<rect x="1005" y="754" width="10" height="52" fill="#f0b662"/>
<rect x="1019" y="754" width="10" height="52" fill="#fadd75"/>
<rect x="1033" y="754" width="10" height="52" fill="#fadd75"/>
<rect x="1047" y="754" width="10" height="52" fill="#fadd75"/>
<rect x="1061" y="754" width="10" height="52" fill="#fadd75"/>
<rect x="1075" y="754" width="10" height="52" fill="#fadd75"/>
<rect x="1089" y="754" width="10" height="52" fill="#f0b662"/>
<rect x="1103" y="754" width="10" height="52" fill="#f0b662"/>
<rect x="1117" y="754" width="10" height="52" fill="#fadd75"/>
<rect x="1131" y="754" width="10" height="52" fill="#fadd75"/>
<rect x="1145" y="754" width="10" height="52" fill="#fadd75"/>
<rect x="1159" y="754" width="10" height="52" fill="#fadd75"/>
<rect x="1173" y="754" width="10" height="52" fill="#f0b662"/>
<rect x="1187" y="754" width="10" height="52" fill="#f0b662"/>
<rect x="1201" y="754" width="10" height="52" fill="#fadd75"/>
<rect x="1215" y="754" width="10" height="52" fill="#fadd75"/>
<rect x="1229" y="754" width="10" height="52" fill="#fadd75"/>
<rect x="1243" y="754" width="10" height="52" fill="#fadd75"/>
<rect x="1257" y="754" width="10" height="52" fill="#fadd75"/>
<rect x="1271" y="754" width="10" height="52" fill="#fadd75"/>
<rect x="1285" y="754" width="10" height="52" fill="#fadd75"/>
<rect x="1299" y="754" width="10" height="52" fill="#fadd75"/>
<rect x="1313" y="754" width="10" height="52" fill="#fadd75"/>
<rect x="1327" y="754" width="10" height="52" fill="#fadd75"/>
<rect x="1341" y="754" width="10" height="52" fill="#fadd75"/>
<rect x="1355" y="754" width="10" height="52" fill="#fadd75"/>
<rect x="1369" y="754" width="10" height="52" fill="#f0b662"/>
<rect x="1383" y="754" width="10" height="52" fill="#fadd75"/>
<rect x="1397" y="754" width="10" height="52" fill="#fadd75"/>
<rect x="1411" y="754" width="10" height="52" fill="#fadd75"/>
<rect x="1425" y="754" width="10" height="52" fill="#fadd75"/>
<rect x="1439" y="754" width="10" height="52" fill="#fadd75"/>
<rect x="1453" y="754" width="10" height="52" fill="#fadd75"/>
<rect x="1467" y="754" width="10" height="52" fill="#fadd75"/>
<rect x="1481" y="754" width="10" height="52" fill="#fadd75"/>
<rect x="1495" y="754" width="10" height="52" fill="#f0b662"/>
<rect x="1509" y="754" width="10" height="52" fill="#f0b662"/>
<rect x="1523" y="754" width="10" height="52" fill="#fadd75"/>
<rect x="1537" y="754" width="10" height="52" fill="#f0b662"/>
<rect x="1551" y="754" width="10" height="52" fill="#f0b662"/>
<rect x="1565" y="754" width="10" height="52" fill="#f0b662"/>
<rect x="1579" y="754" width="10" height="52" fill="#fadd75"/>
<rect x="1593" y="754" width="10" height="52" fill="#fadd75"/>
<rect x="1607" y="754" width="10" height="52" fill="#f0b662"/>
<rect x="1621" y="754" width="10" height="52" fill="#fadd75"/>
<rect x="1635" y="754" width="10" height="52" fill="#fadd75"/>
<rect x="1649" y="754" width="10" height="52" fill="#fadd75"/>
<rect x="1663" y="754" width="10" height="52" fill="#f0b662"/>
<rect x="1677" y="754" width="10" height="52" fill="#fadd75"/>
<rect x="1691" y="754" width="10" height="52" fill="#f0b662"/>
<rect x="1705" y="754" width="10" height="52" fill="#fadd75"/>
<rect x="1719" y="754" width="10" height="52" fill="#f0b662"/>
<rect x="1733" y="754" width="10" height="52" fill="#fadd75"/>
<rect x="1747" y="754" width="10" height="52" fill="#fadd75"/>
<rect x="1761" y="754" width="10" height="52" fill="#fadd75"/>
<rect x="1775" y="754" width="10" height="52" fill="#fadd75"/>
<rect x="1789" y="754" width="10" height="52" fill="#f0b662"/>
<rect x="1803" y="754" width="10" height="52" fill="#fadd75"/>
<rect x="1817" y="754" width="10" height="52" fill="#fadd75"/>
<rect x="1831" y="754" width="10" height="52" fill="#fadd75"/>
<rect x="1845" y="754" width="10" height="52" fill="#f0b662"/>
<rect x="1859" y="754" width="10" height="52" fill="#fadd75"/>
<rect x="1873" y="754" width="10" height="52" fill="#f0b662"/>
<rect x="1887" y="754" width="10" height="52" fill="#f0b662"/>
<rect x="207" y="810" width="10" height="52" fill="#94c77c"/>
<rect x="221" y="810" width="10" height="52" fill="#94c77c"/>
<rect x="235" y="810" width="10" height="52" fill="#94c77c"/>
<rect x="249" y="810" width="10" height="52" fill="#94c77c"/>
<rect x="263" y="810" width="10" height="52" fill="#fadd75"/>
<rect x="277" y="810" width="10" height="52" fill="#fadd75"/>
<rect x="291" y="810" width="10" height="52" fill="#fadd75"/>
<rect x="305" y="810" width="10" height="52" fill="#94c77c"/>
<rect x="319" y="810" width="10" height="52" fill="#fadd75"/>
<rect x="333" y="810" width="10" height="52" fill="#fadd75"/>
<rect x="347" y="810" width="10" height="52" fill="#94c77c"/>
<rect x="361" y="810" width="10" height="52" fill="#94c77c"/>
<rect x="375" y="810" width="10" height="52" fill="#94c77c"/>
<rect x="389" y="810" width="10" height="52" fill="#fadd75"/>
<rect x="403" y="810" width="10" height="52" fill="#94c77c"/>
<rect x="417" y="810" width="10" height="52" fill="#94c77c"/>
<rect x="431" y="810" width="10" height="52" fill="#94c77c"/>
<rect x="445" y="810" width="10" height="52" fill="#94c77c"/>
<rect x="459" y="810" width="10" height="52" fill="#fadd75"/>
<rect x="473" y="810" width="10" height="52" fill="#fadd75"/>
<rect x="487" y="810" width="10" height="52" fill="#94c77c"/>
<rect x="501" y="810" width="10" height="52" fill="#94c77c"/>
<rect x="515" y="810" width="10" height="52" fill="#fadd75"/>
<rect x="529" y="810" width="10" height="52" fill="#94c77c"/>
<rect x="543" y="810" width="10" height="52" fill="#94c77c"/>
<rect x="557" y="810" width="10" height="52" fill="#94c77c"/>
<rect x="571" y="810" width="10" height="52" fill="#fadd75"/>
<rect x="585" y="810" width="10" height="52" fill="#94c77c"/>
<rect x="599" y="810" width="10" height="52" fill="#fadd75"/>
<rect x="613" y="810" width="10" height="52" fill="#94c77c"/>
<rect x="627" y="810" width="10" height="52" fill="#94c77c"/>
<rect x="641" y="810" width="10" height="52" fill="#fadd75"/>
<rect x="655" y="810" width="10" height="52" fill="#fadd75"/>
<rect x="669" y="810" width="10" height="52" fill="#94c77c"/>
<rect x="683" y="810" width="10" height="52" fill="#fadd75"/>
<rect x="697" y="810" width="10" height="52" fill="#fadd75"/>
<rect x="711" y="810" width="10" height="52" fill="#94c77c"/>
<rect x="725" y="810" width="10" height="52" fill="#fadd75"/>
<rect x="739" y="810" width="10" height="52" fill="#fadd75"/>
<rect x="753" y="810" width="10" height="52" fill="#fadd75"/>
<rect x="767" y="810" width="10" height="52" fill="#94c77c"/>
<rect x="781" y="810" width="10" height="52" fill="#fadd75"/>
<rect x="795" y="810" width="10" height="52" fill="#fadd75"/>
<rect x="809" y="810" width="10" height="52" fill="#94c77c"/>
<rect x="823" y="810" width="10" height="52" fill="#fadd75"/>
<rect x="837" y="810" width="10" height="52" fill="#94c77c"/>
<rect x="851" y="810" width="10" height="52" fill="#fadd75"/>
<rect x="865" y="810" width="10" height="52" fill="#fadd75"/>
<rect x="879" y="810" width="10" height="52" fill="#fadd75"/>
<rect x="893" y="810" width="10" height="52" fill="#94c77c"/>
<rect x="907" y="810" width="10" height="52" fill="#94c77c"/>
<rect x="921" y="810" width="10" height="52" fill="#94c77c"/>
<rect x="935" y="810" width="10" height="52" fill="#94c77c"/>
<rect x="949" y="810" width="10" height="52" fill="#94c77c"/>
<rect x="963" y="810" width="10" height="52" fill="#fadd75"/>
<rect x="977" y="810" width="10" height="52" fill="#fadd75"/>
<rect x="991" y="810" width="10" height="52" fill="#94c77c"/>
<rect x="1005" y="810" width="10" height="52" fill="#94c77c"/>
<rect x="1019" y="810" width="10" height="52" fill="#fadd75"/>
<rect x="1033" y="810" width="10" height="52" fill="#fadd75"/>
<rect x="1047" y="810" width="10" height="52" fill="#94c77c"/>
<rect x="1061" y="810" width="10" height="52" fill="#94c77c"/>
<rect x="1075" y="810" width="10" height="52" fill="#94c77c"/>
<rect x="1089" y="810" width="10" height="52" fill="#fadd75"/>
<rect x="1103" y="810" width="10" height="52" fill="#fadd75"/>
<rect x="1117" y="810" width="10" height="52" fill="#94c77c"/>
<rect x="1131" y="810" width="10" height="52" fill="#94c77c"/>
<rect x="1145" y="810" width="10" height="52" fill="#fadd75"/>
<rect x="1159" y="810" width="10" height="52" fill="#94c77c"/>
<rect x="1173" y="810" width="10" height="52" fill="#94c77c"/>
<rect x="1187" y="810" width="10" height="52" fill="#fadd75"/>
<rect x="1201" y="810" width="10" height="52" fill="#fadd75"/>
<rect x="1215" y="810" width="10" height="52" fill="#fadd75"/>
<rect x="1229" y="810" width="10" height="52" fill="#94c77c"/>
<rect x="1243" y="810" width="10" height="52" fill="#fadd75"/>
<rect x="1257" y="810" width="10" height="52" fill="#fadd75"/>
<rect x="1271" y="810" width="10" height="52" fill="#94c77c"/>
<rect x="1285" y="810" width="10" height="52" fill="#94c77c"/>
<rect x="1299" y="810" width="10" height="52" fill="#94c77c"/>
<rect x="1313" y="810" width="10" height="52" fill="#94c77c"/>
<rect x="1327" y="810" width="10" height="52" fill="#94c77c"/>
<rect x="1341" y="810" width="10" height="52" fill="#fadd75"/>
<rect x="1355" y="810" width="10" height="52" fill="#fadd75"/>
<rect x="1369" y="810" width="10" height="52" fill="#94c77c"/>
<rect x="1383" y="810" width="10" height="52" fill="#94c77c"/>
<rect x="1397" y="810" width="10" height="52" fill="#fadd75"/>
<rect x="1411" y="810" width="10" height="52" fill="#fadd75"/>
<rect x="1425" y="810" width="10" height="52" fill="#94c77c"/>
<rect x="1439" y="810" width="10" height="52" fill="#94c77c"/>
<rect x="1453" y="810" width="10" height="52" fill="#94c77c"/>
<rect x="1467" y="810" width="10" height="52" fill="#94c77c"/>
<rect x="1481" y="810" width="10" height="52" fill="#fadd75"/>
<rect x="1495" y="810" width="10" height="52" fill="#94c77c"/>
<rect x="1509" y="810" width="10" height="52" fill="#94c77c"/>
<rect x="1523" y="810" width="10" height="52" fill="#fadd75"/>
<rect x="1537" y="810" width="10" height="52" fill="#fadd75"/>
<rect x="1551" y="810" width="10" height="52" fill="#fadd75"/>
<rect x="1565" y="810" width="10" height="52" fill="#94c77c"/>
<rect x="1579" y="810" width="10" height="52" fill="#94c77c"/>
<rect x="1593" y="810" width="10" height="52" fill="#94c77c"/>
<rect x="1607" y="810" width="10" height="52" fill="#fadd75"/>
<rect x="1621" y="810" width="10" height="52" fill="#fadd75"/>
<rect x="1635" y="810" width="10" height="52" fill="#fadd75"/>
<rect x="1649" y="810" width="10" height="52" fill="#94c77c"/>
<rect x="1663" y="810" width="10" height="52" fill="#fadd75"/>
<rect x="1677" y="810" width="10" height="52" fill="#94c77c"/>
<rect x="1691" y="810" width="10" height="52" fill="#fadd75"/>
<rect x="1705" y="810" width="10" height="52" fill="#fadd75"/>
<rect x="1719" y="810" width="10" height="52" fill="#94c77c"/>
<rect x="1733" y="810" width="10" height="52" fill="#94c77c"/>
<rect x="1747" y="810" width="10" height="52" fill="#fadd75"/>
<rect x="1761" y="810" width="10" height="52" fill="#fadd75"/>
<rect x="1775" y="810" width="10" height="52" fill="#fadd75"/>
<rect x="1789" y="810" width="10" height="52" fill="#fadd75"/>
<rect x="1803" y="810" width="10" height="52" fill="#fadd75"/>
<rect x="1817" y="810" width="10" height="52" fill="#94c77c"/>
<rect x="1831" y="810" width="10" height="52" fill="#94c77c"/>
<rect x="1845" y="810" width="10" height="52" fill="#fadd75"/>
<rect x="1859" y="810" width="10" height="52" fill="#fadd75"/>
<rect x="1873" y="810" width="10" height="52" fill="#fadd75"/>
<rect x="1887" y="810" width="10" height="52" fill="#94c77c"/>
<rect x="207" y="866" width="10" height="52" fill="#94c77c"/>
<rect x="221" y="866" width="10" height="52" fill="#94c77c"/>
<rect x="235" y="866" width="10" height="52" fill="#94c77c"/>
<rect x="249" y="866" width="10" height="52" fill="#94c77c"/>
<rect x="263" y="866" width="10" height="52" fill="#94c77c"/>
<rect x="277" y="866" width="10" height="52" fill="#94c77c"/>
<rect x="291" y="866" width="10" height="52" fill="#94c77c"/>
<rect x="305" y="866" width="10" height="52" fill="#94c77c"/>
<rect x="319" y="866" width="10" height="52" fill="#94c77c"/>
<rect x="333" y="866" width="10" height="52" fill="#94c77c"/>
<rect x="347" y="866" width="10" height="52" fill="#94c77c"/>
<rect x="361" y="866" width="10" height="52" fill="#94c77c"/>
<rect x="375" y="866" width="10" height="52" fill="#94c77c"/>
<rect x="389" y="866" width="10" height="52" fill="#94c77c"/>
<rect x="403" y="866" width="10" height="52" fill="#94c77c"/>
<rect x="417" y="866" width="10" height="52" fill="#94c77c"/>
<rect x="431" y="866" width="10" height="52" fill="#94c77c"/>
<rect x="445" y="866" width="10" height="52" fill="#94c77c"/>
<rect x="459" y="866" width="10" height="52" fill="#94c77c"/>
<rect x="473" y="866" width="10" height="52" fill="#94c77c"/>
<rect x="487" y="866" width="10" height="52" fill="#94c77c"/>
<rect x="501" y="866" width="10" height="52" fill="#94c77c"/>
<rect x="515" y="866" width="10" height="52" fill="#94c77c"/>
<rect x="529" y="866" width="10" height="52" fill="#94c77c"/>
<rect x="543" y="866" width="10" height="52" fill="#94c77c"/>
<rect x="557" y="866" width="10" height="52" fill="#94c77c"/>
<rect x="571" y="866" width="10" height="52" fill="#94c77c"/>
<rect x="585" y="866" width="10" height="52" fill="#94c77c"/>
<rect x="599" y="866" width="10" height="52" fill="#94c77c"/>
<rect x="613" y="866" width="10" height="52" fill="#94c77c"/>
<rect x="627" y="866" width="10" height="52" fill="#94c77c"/>
<rect x="641" y="866" width="10" height="52" fill="#94c77c"/>
<rect x="655" y="866" width="10" height="52" fill="#94c77c"/>
<rect x="669" y="866" width="10" height="52" fill="#94c77c"/>
<rect x="683" y="866" width="10" height="52" fill="#94c77c"/>
<rect x="697" y="866" width="10" height="52" fill="#94c77c"/>
<rect x="711" y="866" width="10" height="52" fill="#94c77c"/>
<rect x="725" y="866" width="10" height="52" fill="#94c77c"/>
<rect x="739" y="866" width="10" height="52" fill="#94c77c"/>
<rect x="753" y="866" width="10" height="52" fill="#94c77c"/>
<rect x="767" y="866" width="10" height="52" fill="#94c77c"/>
<rect x="781" y="866" width="10" height="52" fill="#94c77c"/>
<rect x="795" y="866" width="10" height="52" fill="#94c77c"/>
<rect x="809" y="866" width="10" height="52" fill="#94c77c"/>
<rect x="823" y="866" width="10" height="52" fill="#94c77c"/>
<rect x="837" y="866" width="10" height="52" fill="#94c77c"/>
<rect x="851" y="866" width="10" height="52" fill="#94c77c"/>
<rect x="865" y="866" width="10" height="52" fill="#94c77c"/>
<rect x="879" y="866" width="10" height="52" fill="#94c77c"/>
<rect x="893" y="866" width="10" height="52" fill="#94c77c"/>
<rect x="907" y="866" width="10" height="52" fill="#94c77c"/>
<rect x="921" y="866" width="10" height="52" fill="#94c77c"/>
<rect x="935" y="866" width="10" height="52" fill="#94c77c"/>
<rect x="949" y="866" width="10" height="52" fill="#94c77c"/>
<rect x="963" y="866" width="10" height="52" fill="#94c77c"/>
<rect x="977" y="866" width="10" height="52" fill="#94c77c"/>
<rect x="991" y="866" width="10" height="52" fill="#94c77c"/>
<rect x="1005" y="866" width="10" height="52" fill="#94c77c"/>
<rect x="1019" y="866" width="10" height="52" fill="#94c77c"/>
<rect x="1033" y="866" width="10" height="52" fill="#94c77c"/>
<rect x="1047" y="866" width="10" height="52" fill="#94c77c"/>
<rect x="1061" y="866" width="10" height="52" fill="#94c77c"/>
<rect x="1075" y="866" width="10" height="52" fill="#94c77c"/>
<rect x="1089" y="866" width="10" height="52" fill="#94c77c"/>
<rect x="1103" y="866" width="10" height="52" fill="#94c77c"/>
<rect x="1117" y="866" width="10" height="52" fill="#94c77c"/>
<rect x="1131" y="866" width="10" height="52" fill="#94c77c"/>
<rect x="1145" y="866" width="10" height="52" fill="#94c77c"/>
<rect x="1159" y="866" width="10" height="52" fill="#94c77c"/>
<rect x="1173" y="866" width="10" height="52" fill="#94c77c"/>
<rect x="1187" y="866" width="10" height="52" fill="#94c77c"/>
<rect x="1201" y="866" width="10" height="52" fill="#94c77c"/>
<rect x="1215" y="866" width="10" height="52" fill="#94c77c"/>
<rect x="1229" y="866" width="10" height="52" fill="#94c77c"/>
<rect x="1243" y="866" width="10" height="52" fill="#94c77c"/>
<rect x="1257" y="866" width="10" height="52" fill="#94c77c"/>
<rect x="1271" y="866" width="10" height="52" fill="#94c77c"/>
<rect x="1285" y="866" width="10" height="52" fill="#94c77c"/>
<rect x="1299" y="866" width="10" height="52" fill="#94c77c"/>
<rect x="1313" y="866" width="10" height="52" fill="#94c77c"/>
<rect x="1327" y="866" width="10" height="52" fill="#94c77c"/>
<rect x="1341" y="866" width="10" height="52" fill="#94c77c"/>
<rect x="1355" y="866" width="10" height="52" fill="#94c77c"/>
<rect x="1369" y="866" width="10" height="52" fill="#94c77c"/>
<rect x="1383" y="866" width="10" height="52" fill="#94c77c"/>
<rect x="1397" y="866" width="10" height="52" fill="#94c77c"/>
<rect x="1411" y="866" width="10" height="52" fill="#94c77c"/>
<rect x="1425" y="866" width="10" height="52" fill="#94c77c"/>
<rect x="1439" y="866" width="10" height="52" fill="#94c77c"/>
<rect x="1453" y="866" width="10" height="52" fill="#94c77c"/>
<rect x="1467" y="866" width="10" height="52" fill="#94c77c"/>
<rect x="1481" y="866" width="10" height="52" fill="#94c77c"/>
<rect x="1495" y="866" width="10" height="52" fill="#94c77c"/>
<rect x="1509" y="866" width="10" height="52" fill="#94c77c"/>
<rect x="1523" y="866" width="10" height="52" fill="#94c77c"/>
<rect x="1537" y="866" width="10" height="52" fill="#94c77c"/>
<rect x="1551" y="866" width="10" height="52" fill="#94c77c"/>
<rect x="1565" y="866" width="10" height="52" fill="#94c77c"/>
<rect x="1579" y="866" width="10" height="52" fill="#94c77c"/>
<rect x="1593" y="866" width="10" height="52" fill="#94c77c"/>
<rect x="1607" y="866" width="10" height="52" fill="#94c77c"/>
<rect x="1621" y="866" width="10" height="52" fill="#94c77c"/>
<rect x="1635" y="866" width="10" height="52" fill="#94c77c"/>
<rect x="1649" y="866" width="10" height="52" fill="#94c77c"/>
<rect x="1663" y="866" width="10" height="52" fill="#94c77c"/>
<rect x="1677" y="866" width="10" height="52" fill="#94c77c"/>
<rect x="1691" y="866" width="10" height="52" fill="#94c77c"/>
<rect x="1705" y="866" width="10" height="52" fill="#94c77c"/>
<rect x="1719" y="866" width="10" height="52" fill="#94c77c"/>
<rect x="1733" y="866" width="10" height="52" fill="#94c77c"/>
<rect x="1747" y="866" width="10" height="52" fill="#94c77c"/>
<rect x="1761" y="866" width="10" height="52" fill="#94c77c"/>
<rect x="1775" y="866" width="10" height="52" fill="#94c77c"/>
<rect x="1789" y="866" width="10" height="52" fill="#94c77c"/>
<rect x="1803" y="866" width="10" height="52" fill="#94c77c"/>
<rect x="1817" y="866" width="10" height="52" fill="#94c77c"/>
<rect x="1831" y="866" width="10" height="52" fill="#94c77c"/>
<rect x="1845" y="866" width="10" height="52" fill="#94c77c"/>
<rect x="1859" y="866" width="10" height="52" fill="#94c77c"/>
<rect x="1873" y="866" width="10" height="52" fill="#94c77c"/>
<rect x="1887" y="866" width="10" height="52" fill="#94c77c"/>
<defs><filter id="sh" x="-10%" y="-10%" width="120%" height="130%"><feDropShadow dx="1.5" dy="2" stdDeviation="1.3" flood-color="#000" flood-opacity="0.2"/></filter></defs>
<g filter="url(#sh)" fill="none" stroke="#fff" stroke-width="8.5" stroke-linecap="butt" stroke-linejoin="miter">
<path d="M1329 967.5H1375 M1324 986H1381 M1352 990L1337 1011 M1330 1012H1369 M1362 993L1379 1012"/>
<path d="M1397 961V1018 M1387 980H1406 M1396 984L1387 1005 M1399 988L1406 996 M1408 967H1446 M1415 979H1443 M1415 979V1017 M1443 975V1017 M1415 1012H1443 M1424 971V996Q1424 1003 1418 1006 M1434 978V1000"/>
<path d="M1461 962L1467 968 M1451 973H1469L1453 1000 M1465 988V1018 M1470 992L1476 997 M1495 961V1012 M1475 983H1507 M1471 1013H1510"/>
<path d="M1518 966H1572 M1522 962V1017 M1518 1012H1574 M1530 979L1566 1005 M1564 978L1533 1008"/>
</g>
<g filter="url(#sh)"><text style="fill:#fff" transform="translate(1589.68 1003.50) scale(1.0836 1)" font-size="58.62">yq.aliyun.com</text></g>
</svg></body></html>
